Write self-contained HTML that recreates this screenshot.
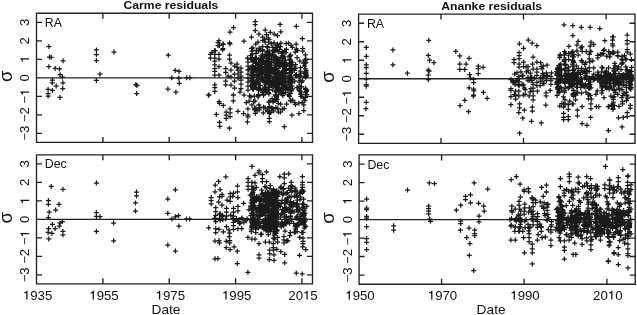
<!DOCTYPE html>
<html><head><meta charset="utf-8"><style>html,body{margin:0;padding:0;background:#fff;width:637px;height:315px;overflow:hidden}svg{display:block;will-change:transform}</style></head>
<body><svg width="637" height="315" viewBox="0 0 637 315">
<rect width="637" height="315" fill="#fff"/>
<path d="M36.5,13.2H312.5V142.4H36.5ZM36.5,77.80H312.5M36.5,133.30h5.5M312.5,133.30h-5.5M36.5,114.80h5.5M312.5,114.80h-5.5M36.5,96.30h5.5M312.5,96.30h-5.5M36.5,77.80h5.5M312.5,77.80h-5.5M36.5,59.30h5.5M312.5,59.30h-5.5M36.5,40.80h5.5M312.5,40.80h-5.5M36.5,22.30h5.5M312.5,22.30h-5.5M36.5,13.2v5.5M36.5,142.4v-5.5M102.9,13.2v5.5M102.9,142.4v-5.5M169.2,13.2v5.5M169.2,142.4v-5.5M235.6,13.2v5.5M235.6,142.4v-5.5M301.9,13.2v5.5M301.9,142.4v-5.5M36.5,154.85H312.5V283.8H36.5ZM36.5,219.32H312.5M36.5,274.82h5.5M312.5,274.82h-5.5M36.5,256.32h5.5M312.5,256.32h-5.5M36.5,237.82h5.5M312.5,237.82h-5.5M36.5,219.32h5.5M312.5,219.32h-5.5M36.5,200.82h5.5M312.5,200.82h-5.5M36.5,182.32h5.5M312.5,182.32h-5.5M36.5,163.82h5.5M312.5,163.82h-5.5M36.5,154.85v5.5M36.5,283.8v-5.5M102.9,154.85v5.5M102.9,283.8v-5.5M169.2,154.85v5.5M169.2,283.8v-5.5M235.6,154.85v5.5M235.6,283.8v-5.5M301.9,154.85v5.5M301.9,283.8v-5.5M358.6,14.1H635.0V143.4H358.6ZM358.6,78.75H635.0M358.6,134.25h5.5M635.0,134.25h-5.5M358.6,115.75h5.5M635.0,115.75h-5.5M358.6,97.25h5.5M635.0,97.25h-5.5M358.6,78.75h5.5M635.0,78.75h-5.5M358.6,60.25h5.5M635.0,60.25h-5.5M358.6,41.75h5.5M635.0,41.75h-5.5M358.6,23.25h5.5M635.0,23.25h-5.5M358.6,14.1v5.5M358.6,143.4v-5.5M441.0,14.1v5.5M441.0,143.4v-5.5M523.5,14.1v5.5M523.5,143.4v-5.5M606.1,14.1v5.5M606.1,143.4v-5.5M359.1,154.9H635.2V284.2H359.1ZM359.1,219.55H635.2M359.1,275.05h5.5M635.2,275.05h-5.5M359.1,256.55h5.5M635.2,256.55h-5.5M359.1,238.05h5.5M635.2,238.05h-5.5M359.1,219.55h5.5M635.2,219.55h-5.5M359.1,201.05h5.5M635.2,201.05h-5.5M359.1,182.55h5.5M635.2,182.55h-5.5M359.1,164.05h5.5M635.2,164.05h-5.5M359.1,154.9v5.5M359.1,284.2v-5.5M441.6,154.9v5.5M441.6,284.2v-5.5M524.1,154.9v5.5M524.1,284.2v-5.5M606.9,154.9v5.5M606.9,284.2v-5.5" fill="none" stroke="#222" stroke-width="1.35"/>
<path d="M46.4,46.5h5M48.9,44.0v5M47.0,57.0h5M49.5,54.5v5M48.7,57.3h5M51.2,54.8v5M60.6,60.8h5M63.1,58.3v5M46.4,66.7h5M48.9,64.2v5M52.7,68.4h5M55.2,65.9v5M57.0,68.9h5M59.5,66.4v5M57.5,74.7h5M60.0,72.2v5M59.9,77.0h5M62.4,74.5v5M49.9,80.0h5M52.4,77.5v5M49.7,82.8h5M52.2,80.3v5M53.7,86.1h5M56.2,83.6v5M60.4,82.8h5M62.9,80.3v5M60.2,88.5h5M62.7,86.0v5M45.6,89.4h5M48.1,86.9v5M49.9,90.4h5M52.4,87.9v5M45.6,93.7h5M48.1,91.2v5M45.6,96.1h5M48.1,93.6v5M57.5,97.4h5M60.0,94.9v5M93.9,49.9h5M96.4,47.4v5M93.9,54.6h5M96.4,52.1v5M93.9,60.6h5M96.4,58.1v5M97.5,74.2h5M100.0,71.7v5M93.9,80.4h5M96.4,77.9v5M111.5,52.1h5M114.0,49.6v5M133.3,84.6h5M135.8,82.1v5M134.5,85.5h5M137.0,83.0v5M134.2,93.5h5M136.7,91.0v5M165.8,55.2h5M168.3,52.7v5M172.7,70.4h5M175.2,67.9v5M176.5,71.4h5M179.0,68.9v5M169.3,77.8h5M171.8,75.3v5M176.3,78.3h5M178.8,75.8v5M184.2,77.8h5M186.7,75.3v5M187.3,77.8h5M189.8,75.3v5M176.8,83.3h5M179.3,80.8v5M165.4,89.0h5M167.9,86.5v5M173.4,92.2h5M175.9,89.7v5M205.9,95.1h5M208.4,92.6v5M231.0,27.6h5M233.5,25.1v5M227.5,32.0h5M230.0,29.5v5M216.4,40.7h5M218.9,38.2v5M217.0,45.4h5M219.5,42.9v5M220.8,44.4h5M223.3,41.9v5M227.5,43.9h5M230.0,41.4v5M212.8,50.7h5M215.3,48.2v5M220.2,49.8h5M222.7,47.3v5M209.4,52.4h5M211.9,49.9v5M252.8,21.6h5M255.3,19.1v5M252.8,24.7h5M255.3,22.2v5M252.8,30.5h5M255.3,28.0v5M256.4,34.0h5M258.9,31.5v5M241.4,41.2h5M243.9,38.7v5M249.0,37.1h5M251.5,34.6v5M253.2,44.1h5M255.7,41.6v5M249.0,48.3h5M251.5,45.8v5M249.4,51.1h5M251.9,48.6v5M262.7,30.1h5M265.2,27.6v5M267.8,32.3h5M270.3,29.8v5M264.0,34.6h5M266.5,32.1v5M260.2,37.1h5M262.7,34.6v5M260.2,40.3h5M262.7,37.8v5M262.7,42.2h5M265.2,39.7v5M266.5,39.7h5M269.0,37.2v5M271.5,42.8h5M274.0,40.3v5M260.2,46.7h5M262.7,44.2v5M265.2,47.3h5M267.7,44.8v5M270.3,47.3h5M272.8,44.8v5M260.2,49.8h5M262.7,47.3v5M265.2,51.1h5M267.7,48.6v5M270.3,51.1h5M272.8,48.6v5M277.6,24.4h5M280.1,21.9v5M293.8,26.3h5M296.3,23.8v5M278.3,31.8h5M280.8,29.3v5M275.0,35.6h5M277.5,33.1v5M299.9,38.7h5M302.4,36.2v5M278.3,43.2h5M280.8,40.7v5M277.9,46.7h5M280.4,44.2v5M286.2,43.2h5M288.7,40.7v5M288.7,45.4h5M291.2,42.9v5M289.8,47.3h5M292.3,44.8v5M293.8,49.2h5M296.3,46.7v5M282.1,50.5h5M284.6,48.0v5M300.2,48.6h5M302.7,46.1v5M300.2,51.1h5M302.7,48.6v5M274.8,47.3h5M277.3,44.8v5M212.3,50.5h5M214.8,48.0v5M212.3,54.3h5M214.8,51.8v5M212.3,58.0h5M214.8,55.5v5M212.3,61.0h5M214.8,58.5v5M212.3,64.8h5M214.8,62.3v5M212.3,68.6h5M214.8,66.1v5M212.3,71.4h5M214.8,68.9v5M212.3,75.2h5M214.8,72.7v5M212.3,84.8h5M214.8,82.3v5M212.3,87.6h5M214.8,85.1v5M212.3,91.4h5M214.8,88.9v5M208.0,54.3h5M210.5,51.8v5M208.0,58.0h5M210.5,55.5v5M216.5,54.3h5M219.0,51.8v5M216.5,59.0h5M219.0,56.5v5M216.5,66.7h5M219.0,64.2v5M216.5,75.2h5M219.0,72.7v5M215.5,42.5h5M218.0,40.0v5M215.5,45.5h5M218.0,43.0v5M220.4,43.8h5M222.9,41.3v5M220.4,48.6h5M222.9,46.1v5M227.0,42.9h5M229.5,40.4v5M227.0,55.2h5M229.5,52.7v5M227.0,59.0h5M229.5,56.5v5M223.2,68.6h5M225.7,66.1v5M223.2,72.4h5M225.7,69.9v5M223.2,81.0h5M225.7,78.5v5M223.2,84.8h5M225.7,82.3v5M206.1,95.2h5M208.6,92.7v5M230.8,95.2h5M233.3,92.7v5M228.5,63.0h5M231.0,60.5v5M228.5,70.0h5M231.0,67.5v5M228.5,77.0h5M231.0,74.5v5M228.5,85.0h5M231.0,82.5v5M232.0,66.0h5M234.5,63.5v5M232.0,74.0h5M234.5,71.5v5M232.0,81.0h5M234.5,78.5v5M232.0,88.0h5M234.5,85.5v5M225.5,76.0h5M228.0,73.5v5M234.5,64.0h5M237.0,61.5v5M234.5,67.0h5M237.0,64.5v5M235.5,70.0h5M238.0,67.5v5M235.5,74.0h5M238.0,71.5v5M235.5,78.0h5M238.0,75.5v5M238.5,68.0h5M241.0,65.5v5M238.5,72.0h5M241.0,69.5v5M238.5,76.0h5M241.0,73.5v5M238.5,80.0h5M241.0,77.5v5M238.5,84.0h5M241.0,81.5v5M238.5,88.5h5M241.0,86.0v5M245.0,58.0h5M247.5,55.5v5M245.5,62.0h5M248.0,59.5v5M245.5,66.0h5M248.0,63.5v5M245.5,70.0h5M248.0,67.5v5M245.5,74.0h5M248.0,71.5v5M245.5,78.0h5M248.0,75.5v5M245.5,82.0h5M248.0,79.5v5M245.5,86.0h5M248.0,83.5v5M245.5,90.0h5M248.0,87.5v5M241.5,95.0h5M244.0,92.5v5M237.5,92.0h5M240.0,89.5v5M206.5,94.9h5M209.0,92.4v5M230.8,94.9h5M233.3,92.4v5M230.8,100.9h5M233.3,98.4v5M216.5,101.7h5M219.0,99.2v5M217.0,103.3h5M219.5,100.8v5M220.8,105.4h5M223.3,102.9v5M227.6,108.9h5M230.1,106.4v5M223.7,112.0h5M226.2,109.5v5M227.6,112.8h5M230.1,110.3v5M213.8,114.4h5M216.3,111.9v5M223.7,115.2h5M226.2,112.7v5M227.6,116.5h5M230.1,114.0v5M223.7,118.4h5M226.2,115.9v5M217.0,122.4h5M219.5,119.9v5M217.3,126.3h5M219.8,123.8v5M226.8,128.2h5M229.3,125.7v5M235.4,111.3h5M237.9,108.8v5M241.1,113.6h5M243.6,111.1v5M245.4,108.9h5M247.9,106.4v5M245.4,115.2h5M247.9,112.7v5M245.4,116.8h5M247.9,114.3v5M244.9,121.9h5M247.4,119.4v5M252.9,113.3h5M255.4,110.8v5M260.8,112.8h5M263.3,110.3v5M266.8,113.6h5M269.3,111.1v5M266.8,118.4h5M269.3,115.9v5M266.8,121.6h5M269.3,119.1v5M249.4,104.9h5M251.9,102.4v5M256.5,108.1h5M259.0,105.6v5M266.8,108.1h5M269.3,105.6v5M243.8,102.5h5M246.3,100.0v5M275.9,112.0h5M278.4,109.5v5M289.4,115.2h5M291.9,112.7v5M296.5,113.6h5M299.0,111.1v5M301.3,110.5h5M303.8,108.0v5M301.3,104.9h5M303.8,102.4v5M299.7,102.5h5M302.2,100.0v5M281.8,126.7h5M284.3,124.2v5M256.4,69.1h5M258.9,66.6v5M251.0,71.0h5M253.5,68.5v5M271.7,61.0h5M274.2,58.5v5M275.0,89.6h5M277.5,87.1v5M280.3,65.2h5M282.8,62.7v5M253.9,58.5h5M256.4,56.0v5M276.1,81.4h5M278.6,78.9v5M256.5,81.8h5M259.0,79.3v5M255.4,79.8h5M257.9,77.3v5M259.1,66.7h5M261.6,64.2v5M260.1,60.8h5M262.6,58.3v5M270.5,84.5h5M273.0,82.0v5M279.4,87.9h5M281.9,85.4v5M269.1,67.7h5M271.6,65.2v5M260.1,58.3h5M262.6,55.8v5M276.5,79.7h5M279.0,77.2v5M257.7,65.8h5M260.2,63.3v5M259.0,59.6h5M261.5,57.1v5M267.4,68.1h5M269.9,65.6v5M281.7,56.8h5M284.2,54.3v5M276.7,89.5h5M279.2,87.0v5M250.5,65.5h5M253.0,63.0v5M259.8,55.8h5M262.3,53.3v5M274.1,59.3h5M276.6,56.8v5M266.5,74.1h5M269.0,71.6v5M266.6,84.5h5M269.1,82.0v5M265.7,84.4h5M268.2,81.9v5M275.3,59.9h5M277.8,57.4v5M278.7,92.1h5M281.2,89.6v5M267.5,54.5h5M270.0,52.0v5M274.4,63.4h5M276.9,60.9v5M264.2,58.0h5M266.7,55.5v5M276.4,88.2h5M278.9,85.7v5M266.5,72.3h5M269.0,69.8v5M281.0,85.8h5M283.5,83.3v5M272.7,56.3h5M275.2,53.8v5M266.6,68.5h5M269.1,66.0v5M280.6,75.3h5M283.1,72.8v5M256.4,71.3h5M258.9,68.8v5M273.6,65.9h5M276.1,63.4v5M253.6,72.2h5M256.1,69.7v5M250.0,77.9h5M252.5,75.4v5M273.7,74.5h5M276.2,72.0v5M266.2,74.1h5M268.7,71.6v5M280.2,63.9h5M282.7,61.4v5M277.6,57.7h5M280.1,55.2v5M269.3,68.4h5M271.8,65.9v5M272.8,76.1h5M275.3,73.6v5M271.5,74.0h5M274.0,71.5v5M257.5,75.2h5M260.0,72.7v5M273.3,63.7h5M275.8,61.2v5M274.5,65.2h5M277.0,62.7v5M277.6,66.0h5M280.1,63.5v5M279.6,74.3h5M282.1,71.8v5M263.0,87.4h5M265.5,84.9v5M255.9,59.4h5M258.4,56.9v5M270.0,78.1h5M272.5,75.6v5M260.8,72.1h5M263.3,69.6v5M280.4,55.5h5M282.9,53.0v5M262.6,54.0h5M265.1,51.5v5M263.1,72.7h5M265.6,70.2v5M280.2,66.8h5M282.7,64.3v5M266.3,54.6h5M268.8,52.1v5M272.0,70.3h5M274.5,67.8v5M249.8,54.1h5M252.3,51.6v5M272.4,73.7h5M274.9,71.2v5M263.6,56.2h5M266.1,53.7v5M273.8,84.6h5M276.3,82.1v5M266.4,59.3h5M268.9,56.8v5M259.2,79.9h5M261.7,77.4v5M269.1,85.4h5M271.6,82.9v5M267.0,64.5h5M269.5,62.0v5M272.7,94.8h5M275.2,92.3v5M275.5,78.8h5M278.0,76.3v5M276.3,82.4h5M278.8,79.9v5M279.4,75.8h5M281.9,73.3v5M263.2,63.3h5M265.7,60.8v5M267.9,72.3h5M270.4,69.8v5M276.3,88.7h5M278.8,86.2v5M280.3,81.3h5M282.8,78.8v5M268.3,82.1h5M270.8,79.6v5M249.8,69.9h5M252.3,67.4v5M255.7,75.7h5M258.2,73.2v5M257.7,72.8h5M260.2,70.3v5M257.2,89.3h5M259.7,86.8v5M276.8,84.0h5M279.3,81.5v5M276.9,65.1h5M279.4,62.6v5M262.6,67.6h5M265.1,65.1v5M276.1,89.1h5M278.6,86.6v5M249.8,81.7h5M252.3,79.2v5M250.3,74.2h5M252.8,71.7v5M279.1,62.9h5M281.6,60.4v5M264.0,66.1h5M266.5,63.6v5M272.0,59.6h5M274.5,57.1v5M266.6,82.3h5M269.1,79.8v5M267.2,75.7h5M269.7,73.2v5M257.2,62.7h5M259.7,60.2v5M274.1,78.3h5M276.6,75.8v5M250.7,82.7h5M253.2,80.2v5M260.0,61.5h5M262.5,59.0v5M262.6,62.4h5M265.1,59.9v5M263.6,74.5h5M266.1,72.0v5M272.8,48.8h5M275.3,46.3v5M250.1,88.0h5M252.6,85.5v5M249.9,74.2h5M252.4,71.7v5M254.1,63.4h5M256.6,60.9v5M275.3,77.8h5M277.8,75.3v5M276.6,79.4h5M279.1,76.9v5M279.4,78.7h5M281.9,76.2v5M266.6,59.7h5M269.1,57.2v5M260.0,77.9h5M262.5,75.4v5M273.4,96.0h5M275.9,93.5v5M261.5,56.7h5M264.0,54.2v5M261.9,89.5h5M264.4,87.0v5M251.8,82.6h5M254.3,80.1v5M269.1,67.3h5M271.6,64.8v5M273.3,73.9h5M275.8,71.4v5M252.4,87.2h5M254.9,84.7v5M275.2,59.2h5M277.7,56.7v5M260.1,90.8h5M262.6,88.3v5M280.3,52.8h5M282.8,50.3v5M266.4,69.9h5M268.9,67.4v5M272.6,69.9h5M275.1,67.4v5M267.5,73.0h5M270.0,70.5v5M277.3,89.6h5M279.8,87.1v5M254.2,69.3h5M256.7,66.8v5M258.6,79.1h5M261.1,76.6v5M272.1,79.8h5M274.6,77.3v5M272.8,65.2h5M275.3,62.7v5M266.5,78.5h5M269.0,76.0v5M262.4,78.2h5M264.9,75.7v5M266.8,83.8h5M269.3,81.3v5M273.6,56.9h5M276.1,54.4v5M266.0,66.3h5M268.5,63.8v5M254.9,69.5h5M257.4,67.0v5M266.7,66.8h5M269.2,64.3v5M276.3,79.1h5M278.8,76.6v5M248.8,66.9h5M251.3,64.4v5M259.8,92.5h5M262.3,90.0v5M255.8,79.8h5M258.3,77.3v5M250.9,85.0h5M253.4,82.5v5M256.1,95.4h5M258.6,92.9v5M267.3,80.0h5M269.8,77.5v5M256.7,63.2h5M259.2,60.7v5M262.9,69.8h5M265.4,67.3v5M278.6,72.9h5M281.1,70.4v5M279.2,72.2h5M281.7,69.7v5M250.2,59.4h5M252.7,56.9v5M274.8,61.6h5M277.3,59.1v5M270.6,69.5h5M273.1,67.0v5M263.3,67.6h5M265.8,65.1v5M280.2,63.8h5M282.7,61.3v5M250.7,81.2h5M253.2,78.7v5M266.1,87.4h5M268.6,84.9v5M274.3,85.4h5M276.8,82.9v5M274.1,90.4h5M276.6,87.9v5M267.1,78.0h5M269.6,75.5v5M279.9,87.2h5M282.4,84.7v5M273.6,63.3h5M276.1,60.8v5M248.4,80.0h5M250.9,77.5v5M266.0,63.9h5M268.5,61.4v5M254.8,82.6h5M257.3,80.1v5M277.6,78.0h5M280.1,75.5v5M275.8,62.4h5M278.3,59.9v5M261.0,80.3h5M263.5,77.8v5M249.2,85.6h5M251.7,83.1v5M266.7,72.1h5M269.2,69.6v5M274.5,79.3h5M277.0,76.8v5M272.7,57.6h5M275.2,55.1v5M266.9,53.8h5M269.4,51.3v5M273.2,72.7h5M275.7,70.2v5M277.0,88.8h5M279.5,86.3v5M249.5,59.2h5M252.0,56.7v5M256.8,71.8h5M259.3,69.3v5M264.3,76.4h5M266.8,73.9v5M251.1,61.6h5M253.6,59.1v5M276.0,75.3h5M278.5,72.8v5M279.2,83.6h5M281.7,81.1v5M256.1,74.6h5M258.6,72.1v5M266.7,89.5h5M269.2,87.0v5M255.9,90.2h5M258.4,87.7v5M266.1,64.5h5M268.6,62.0v5M273.6,77.2h5M276.1,74.7v5M269.6,85.9h5M272.1,83.4v5M272.7,70.4h5M275.2,67.9v5M266.9,58.1h5M269.4,55.6v5M265.9,92.5h5M268.4,90.0v5M259.9,64.7h5M262.4,62.2v5M281.4,70.1h5M283.9,67.6v5M278.6,91.2h5M281.1,88.7v5M266.0,76.2h5M268.5,73.7v5M257.2,71.3h5M259.7,68.8v5M250.6,61.9h5M253.1,59.4v5M265.3,75.0h5M267.8,72.5v5M264.3,89.4h5M266.8,86.9v5M250.7,74.6h5M253.2,72.1v5M262.1,86.8h5M264.6,84.3v5M269.7,54.8h5M272.2,52.3v5M260.1,71.0h5M262.6,68.5v5M265.8,80.0h5M268.3,77.5v5M249.6,72.7h5M252.1,70.2v5M279.7,89.0h5M282.2,86.5v5M265.6,63.7h5M268.1,61.2v5M257.0,70.3h5M259.5,67.8v5M271.7,51.1h5M274.2,48.6v5M274.0,76.4h5M276.5,73.9v5M253.5,70.2h5M256.0,67.7v5M264.7,68.9h5M267.2,66.4v5M263.1,66.9h5M265.6,64.4v5M266.9,61.4h5M269.4,58.9v5M257.8,85.3h5M260.3,82.8v5M268.4,84.5h5M270.9,82.0v5M275.9,73.1h5M278.4,70.6v5M253.8,87.7h5M256.3,85.2v5M252.8,82.9h5M255.3,80.4v5M262.7,89.4h5M265.2,86.9v5M255.9,84.5h5M258.4,82.0v5M249.8,77.2h5M252.3,74.7v5M266.0,82.6h5M268.5,80.1v5M248.4,59.3h5M250.9,56.8v5M264.1,78.4h5M266.6,75.9v5M272.5,78.7h5M275.0,76.2v5M263.8,82.2h5M266.3,79.7v5M265.8,75.5h5M268.3,73.0v5M280.2,58.3h5M282.7,55.8v5M276.3,66.3h5M278.8,63.8v5M273.0,77.6h5M275.5,75.1v5M274.2,68.9h5M276.7,66.4v5M255.2,67.4h5M257.7,64.9v5M273.8,91.5h5M276.3,89.0v5M267.6,81.4h5M270.1,78.9v5M273.3,81.4h5M275.8,78.9v5M263.1,70.6h5M265.6,68.1v5M271.8,79.8h5M274.3,77.3v5M279.6,89.0h5M282.1,86.5v5M259.2,74.2h5M261.7,71.7v5M266.6,71.2h5M269.1,68.7v5M258.0,58.3h5M260.5,55.8v5M249.0,75.5h5M251.5,73.0v5M264.4,65.5h5M266.9,63.0v5M250.2,84.6h5M252.7,82.1v5M264.7,74.2h5M267.2,71.7v5M250.6,89.4h5M253.1,86.9v5M259.6,69.3h5M262.1,66.8v5M269.2,62.7h5M271.7,60.2v5M263.1,87.8h5M265.6,85.3v5M265.7,69.4h5M268.2,66.9v5M273.0,88.1h5M275.5,85.6v5M277.1,62.8h5M279.6,60.3v5M275.0,70.4h5M277.5,67.9v5M269.3,83.2h5M271.8,80.7v5M278.8,63.2h5M281.3,60.7v5M279.3,87.3h5M281.8,84.8v5M270.6,83.1h5M273.1,80.6v5M273.7,86.2h5M276.2,83.7v5M266.3,58.1h5M268.8,55.6v5M269.0,65.0h5M271.5,62.5v5M267.0,76.4h5M269.5,73.9v5M256.5,62.2h5M259.0,59.7v5M267.1,70.7h5M269.6,68.2v5M280.4,80.6h5M282.9,78.1v5M273.9,86.9h5M276.4,84.4v5M249.7,72.6h5M252.2,70.1v5M280.8,75.3h5M283.3,72.8v5M272.0,79.3h5M274.5,76.8v5M260.3,80.9h5M262.8,78.4v5M279.2,53.4h5M281.7,50.9v5M272.4,81.9h5M274.9,79.4v5M250.3,74.4h5M252.8,71.9v5M280.1,71.5h5M282.6,69.0v5M259.7,73.0h5M262.2,70.5v5M280.3,77.6h5M282.8,75.1v5M265.7,75.8h5M268.2,73.3v5M253.9,77.2h5M256.4,74.7v5M250.3,68.9h5M252.8,66.4v5M264.6,78.3h5M267.1,75.8v5M264.1,72.2h5M266.6,69.7v5M265.3,59.5h5M267.8,57.0v5M257.9,73.1h5M260.4,70.6v5M277.6,66.4h5M280.1,63.9v5M276.6,72.9h5M279.1,70.4v5M275.8,51.9h5M278.3,49.4v5M267.1,64.5h5M269.6,62.0v5M267.7,81.9h5M270.2,79.4v5M255.5,77.7h5M258.0,75.2v5M270.6,50.0h5M273.1,47.5v5M263.5,76.3h5M266.0,73.8v5M260.6,89.1h5M263.1,86.6v5M272.0,74.2h5M274.5,71.7v5M273.7,82.7h5M276.2,80.2v5M258.0,69.0h5M260.5,66.5v5M264.0,60.8h5M266.5,58.3v5M249.3,68.4h5M251.8,65.9v5M263.3,66.9h5M265.8,64.4v5M262.5,82.9h5M265.0,80.4v5M266.0,79.8h5M268.5,77.3v5M272.2,85.3h5M274.7,82.8v5M263.0,76.2h5M265.5,73.7v5M251.2,75.7h5M253.7,73.2v5M272.4,69.5h5M274.9,67.0v5M270.9,69.4h5M273.4,66.9v5M263.7,81.7h5M266.2,79.2v5M275.8,79.9h5M278.3,77.4v5M280.1,79.9h5M282.6,77.4v5M259.2,70.9h5M261.7,68.4v5M266.6,55.6h5M269.1,53.1v5M279.7,51.8h5M282.2,49.3v5M253.0,62.9h5M255.5,60.4v5M280.2,64.8h5M282.7,62.3v5M270.8,69.2h5M273.3,66.7v5M266.1,84.1h5M268.6,81.6v5M276.6,82.4h5M279.1,79.9v5M259.5,59.6h5M262.0,57.1v5M260.2,67.6h5M262.7,65.1v5M272.9,50.6h5M275.4,48.1v5M251.1,75.6h5M253.6,73.1v5M273.7,79.0h5M276.2,76.5v5M259.6,69.1h5M262.1,66.6v5M278.8,64.3h5M281.3,61.8v5M267.5,68.1h5M270.0,65.6v5M249.6,83.9h5M252.1,81.4v5M249.9,71.9h5M252.4,69.4v5M276.2,74.1h5M278.7,71.6v5M256.5,71.7h5M259.0,69.2v5M253.5,67.9h5M256.0,65.4v5M276.3,73.5h5M278.8,71.0v5M263.3,84.5h5M265.8,82.0v5M273.8,60.4h5M276.3,57.9v5M251.6,81.5h5M254.1,79.0v5M279.9,57.2h5M282.4,54.7v5M277.1,82.9h5M279.6,80.4v5M249.1,80.6h5M251.6,78.1v5M266.7,87.7h5M269.2,85.2v5M266.7,64.4h5M269.2,61.9v5M277.2,49.3h5M279.7,46.8v5M280.2,85.1h5M282.7,82.6v5M257.2,64.4h5M259.7,61.9v5M264.3,55.4h5M266.8,52.9v5M249.9,66.4h5M252.4,63.9v5M266.8,51.1h5M269.3,48.6v5M280.1,77.3h5M282.6,74.8v5M279.8,61.8h5M282.3,59.3v5M270.1,71.5h5M272.6,69.0v5M279.6,64.7h5M282.1,62.2v5M254.3,72.2h5M256.8,69.7v5M263.8,75.0h5M266.3,72.5v5M274.3,84.1h5M276.8,81.6v5M279.9,84.9h5M282.4,82.4v5M276.5,64.6h5M279.0,62.1v5M265.0,81.6h5M267.5,79.1v5M252.6,87.3h5M255.1,84.8v5M264.9,64.5h5M267.4,62.0v5M256.8,48.2h5M259.3,45.7v5M266.7,67.9h5M269.2,65.4v5M271.3,85.8h5M273.8,83.3v5M281.1,93.7h5M283.6,91.2v5M273.2,79.4h5M275.7,76.9v5M268.9,58.0h5M271.4,55.5v5M271.9,68.0h5M274.4,65.5v5M252.1,60.3h5M254.6,57.8v5M283.1,76.0h5M285.6,73.5v5M288.0,89.1h5M290.5,86.6v5M302.9,54.8h5M305.4,52.3v5M287.0,96.4h5M289.5,93.9v5M301.3,98.0h5M303.8,95.5v5M303.1,60.0h5M305.6,57.5v5M289.5,86.0h5M292.0,83.5v5M288.1,63.5h5M290.6,61.0v5M283.7,72.5h5M286.2,70.0v5M304.0,75.6h5M306.5,73.1v5M297.8,71.0h5M300.3,68.5v5M302.7,73.6h5M305.2,71.1v5M302.8,63.0h5M305.3,60.5v5M289.6,62.4h5M292.1,59.9v5M303.4,59.0h5M305.9,56.5v5M288.2,76.8h5M290.7,74.3v5M283.3,78.9h5M285.8,76.4v5M282.1,63.9h5M284.6,61.4v5M292.7,52.2h5M295.2,49.7v5M287.7,84.9h5M290.2,82.4v5M281.6,85.4h5M284.1,82.9v5M287.4,83.8h5M289.9,81.3v5M288.0,93.4h5M290.5,90.9v5M287.3,83.7h5M289.8,81.2v5M298.3,73.0h5M300.8,70.5v5M288.3,78.1h5M290.8,75.6v5M288.0,87.3h5M290.5,84.8v5M294.6,57.5h5M297.1,55.0v5M303.1,97.3h5M305.6,94.8v5M289.2,79.3h5M291.7,76.8v5M288.1,79.4h5M290.6,76.9v5M287.6,77.3h5M290.1,74.8v5M288.1,68.8h5M290.6,66.3v5M287.8,87.4h5M290.3,84.9v5M296.7,88.7h5M299.2,86.2v5M297.3,61.2h5M299.8,58.7v5M282.9,89.8h5M285.4,87.3v5M288.2,80.5h5M290.7,78.0v5M286.9,69.8h5M289.4,67.3v5M282.3,62.1h5M284.8,59.6v5M292.2,81.2h5M294.7,78.7v5M288.0,68.3h5M290.5,65.8v5M283.3,66.2h5M285.8,63.7v5M288.5,62.1h5M291.0,59.6v5M283.3,86.7h5M285.8,84.2v5M302.5,71.8h5M305.0,69.3v5M284.0,63.9h5M286.5,61.4v5M302.4,60.2h5M304.9,57.7v5M303.5,72.4h5M306.0,69.9v5M303.1,92.5h5M305.6,90.0v5M303.6,74.2h5M306.1,71.7v5M283.1,63.8h5M285.6,61.3v5M303.3,62.6h5M305.8,60.1v5M286.9,68.5h5M289.4,66.0v5M294.0,74.5h5M296.5,72.0v5M292.5,67.0h5M295.0,64.5v5M283.0,92.3h5M285.5,89.8v5M287.3,78.3h5M289.8,75.8v5M295.0,50.6h5M297.5,48.1v5M297.4,76.9h5M299.9,74.4v5M283.2,76.6h5M285.7,74.1v5M283.9,49.4h5M286.4,46.9v5M289.1,65.1h5M291.6,62.6v5M287.0,56.8h5M289.5,54.3v5M297.6,80.3h5M300.1,77.8v5M282.8,86.8h5M285.3,84.3v5M288.1,73.6h5M290.6,71.1v5M283.5,82.5h5M286.0,80.0v5M298.8,94.4h5M301.3,91.9v5M288.1,65.8h5M290.6,63.3v5M287.7,84.2h5M290.2,81.7v5M288.5,101.0h5M291.0,98.5v5M298.5,86.6h5M301.0,84.1v5M288.7,69.4h5M291.2,66.9v5M283.3,70.3h5M285.8,67.8v5M288.3,83.2h5M290.8,80.7v5M293.1,64.7h5M295.6,62.2v5M302.3,100.5h5M304.8,98.0v5M291.9,70.4h5M294.4,67.9v5M292.9,68.6h5M295.4,66.1v5M298.4,91.9h5M300.9,89.4v5M293.0,75.6h5M295.5,73.1v5M288.5,82.7h5M291.0,80.2v5M283.2,73.5h5M285.7,71.0v5M282.8,66.4h5M285.3,63.9v5M286.7,81.4h5M289.2,78.9v5M289.9,70.7h5M292.4,68.2v5M288.1,100.3h5M290.6,97.8v5M304.0,91.3h5M306.5,88.8v5M287.0,63.2h5M289.5,60.7v5M287.3,59.2h5M289.8,56.7v5M288.4,69.9h5M290.9,67.4v5M287.3,82.2h5M289.8,79.7v5M298.9,86.8h5M301.4,84.3v5M288.2,66.2h5M290.7,63.7v5M287.2,76.3h5M289.7,73.8v5M284.0,68.9h5M286.5,66.4v5M296.7,90.3h5M299.2,87.8v5M297.2,75.5h5M299.7,73.0v5M282.0,66.6h5M284.5,64.1v5M302.9,88.3h5M305.4,85.8v5M294.5,87.5h5M297.0,85.0v5M298.1,67.7h5M300.6,65.2v5M302.6,62.2h5M305.1,59.7v5M298.3,96.3h5M300.8,93.8v5M288.9,90.8h5M291.4,88.3v5M288.2,55.1h5M290.7,52.6v5M303.0,68.9h5M305.5,66.4v5M288.5,86.2h5M291.0,83.7v5M287.6,55.5h5M290.1,53.0v5M303.5,74.6h5M306.0,72.1v5M283.5,64.9h5M286.0,62.4v5M302.7,62.6h5M305.2,60.1v5M303.1,77.3h5M305.6,74.8v5M303.7,70.7h5M306.2,68.2v5M283.0,81.4h5M285.5,78.9v5M302.4,76.2h5M304.9,73.7v5M282.7,60.2h5M285.2,57.7v5M296.4,77.0h5M298.9,74.5v5M288.7,81.7h5M291.2,79.2v5M283.2,65.2h5M285.7,62.7v5M282.9,60.2h5M285.4,57.7v5M282.1,63.0h5M284.6,60.5v5M288.7,79.5h5M291.2,77.0v5M298.9,82.0h5M301.4,79.5v5M296.4,103.2h5M298.9,100.7v5M288.3,63.4h5M290.8,60.9v5M287.3,69.9h5M289.8,67.4v5M296.9,82.2h5M299.4,79.7v5M288.0,68.4h5M290.5,65.9v5M288.5,89.7h5M291.0,87.2v5M303.3,76.4h5M305.8,73.9v5M288.3,72.3h5M290.8,69.8v5M283.4,52.6h5M285.9,50.1v5M287.1,80.2h5M289.6,77.7v5M287.4,75.1h5M289.9,72.6v5M288.8,82.7h5M291.3,80.2v5M298.1,94.1h5M300.6,91.6v5M283.1,90.0h5M285.6,87.5v5M303.2,89.5h5M305.7,87.0v5M301.0,63.1h5M303.5,60.6v5M283.6,70.2h5M286.1,67.7v5M293.6,44.1h5M296.1,41.6v5M304.1,94.6h5M306.6,92.1v5M275.6,88.2h5M278.1,85.7v5M290.1,88.8h5M292.6,86.3v5M281.7,108.5h5M284.2,106.0v5M269.6,98.7h5M272.1,96.2v5M288.1,60.3h5M290.6,57.8v5M249.9,57.7h5M252.4,55.2v5M296.6,86.1h5M299.1,83.6v5M257.5,89.3h5M260.0,86.8v5M279.4,92.4h5M281.9,89.9v5M284.5,86.5h5M287.0,84.0v5M250.5,47.9h5M253.0,45.4v5M251.0,88.8h5M253.5,86.3v5M261.7,56.6h5M264.2,54.1v5M280.2,60.2h5M282.7,57.7v5M292.9,104.5h5M295.4,102.0v5M284.1,104.0h5M286.6,101.5v5M287.3,56.1h5M289.8,53.6v5M290.2,100.1h5M292.7,97.6v5M292.3,102.6h5M294.8,100.1v5M253.3,81.6h5M255.8,79.1v5M284.8,88.9h5M287.3,86.4v5M277.3,91.4h5M279.8,88.9v5M259.7,90.7h5M262.2,88.2v5M286.4,94.1h5M288.9,91.6v5M304.2,90.0h5M306.7,87.5v5M271.6,100.5h5M274.1,98.0v5M253.9,63.4h5M256.4,60.9v5M283.6,43.5h5M286.1,41.0v5M253.5,53.4h5M256.0,50.9v5M283.1,63.3h5M285.6,60.8v5M286.4,95.1h5M288.9,92.6v5M252.9,67.6h5M255.4,65.1v5M254.0,50.3h5M256.5,47.8v5M265.0,111.3h5M267.5,108.8v5M268.1,112.4h5M270.6,109.9v5M300.1,80.8h5M302.6,78.3v5M255.8,94.5h5M258.3,92.0v5M270.2,90.0h5M272.7,87.5v5M262.7,108.1h5M265.2,105.6v5M269.0,108.1h5M271.5,105.6v5M286.1,88.8h5M288.6,86.3v5M250.5,61.2h5M253.0,58.7v5M256.5,88.2h5M259.0,85.7v5M258.5,55.9h5M261.0,53.4v5M248.3,55.5h5M250.8,53.0v5M293.3,75.2h5M295.8,72.7v5M246.3,69.5h5M248.8,67.0v5M274.1,76.7h5M276.6,74.2v5M248.2,86.0h5M250.7,83.5v5M251.8,96.1h5M254.3,93.6v5M302.1,66.1h5M304.6,63.6v5M299.5,96.4h5M302.0,93.9v5M255.6,96.9h5M258.1,94.4v5M297.4,91.2h5M299.9,88.7v5M252.6,58.1h5M255.1,55.6v5M266.1,62.1h5M268.6,59.6v5M268.9,43.7h5M271.4,41.2v5M264.6,46.6h5M267.1,44.1v5M262.1,39.0h5M264.6,36.5v5M255.5,42.0h5M258.0,39.5v5M256.0,50.9h5M258.5,48.4v5M274.4,45.7h5M276.9,43.2v5M257.8,50.0h5M260.3,47.5v5M264.4,52.1h5M266.9,49.6v5M270.4,54.4h5M272.9,51.9v5M266.1,42.2h5M268.6,39.7v5M274.9,44.3h5M277.4,41.8v5M265.7,37.8h5M268.2,35.3v5M259.9,51.0h5M262.4,48.5v5M273.8,50.0h5M276.3,47.5v5M271.7,34.1h5M274.2,31.6v5M280.3,95.5h5M282.8,93.0v5M270.3,108.5h5M272.8,106.0v5M273.2,99.9h5M275.7,97.4v5M274.6,99.5h5M277.1,97.0v5M260.9,95.2h5M263.4,92.7v5M266.9,106.5h5M269.4,104.0v5M253.5,108.1h5M256.0,105.6v5M261.1,94.6h5M263.6,92.1v5M248.4,96.9h5M250.9,94.4v5M251.9,109.5h5M254.4,107.0v5M279.8,109.0h5M282.3,106.5v5M252.0,108.1h5M254.5,105.6v5M257.3,107.6h5M259.8,105.1v5M251.1,101.4h5M253.6,98.9v5M254.5,110.6h5M257.0,108.1v5M266.8,107.1h5M269.3,104.6v5M274.0,98.1h5M276.5,95.6v5M256.7,109.9h5M259.2,107.4v5M275.8,94.7h5M278.3,92.2v5M274.2,97.2h5M276.7,94.7v5M261.1,107.2h5M263.6,104.7v5M247.1,95.8h5M249.6,93.3v5M263.3,92.5h5M265.8,90.0v5M275.7,103.3h5M278.2,100.8v5M263.5,91.0h5M266.0,88.5v5M266.2,102.0h5M268.7,99.5v5M273.5,107.5h5M276.0,105.0v5M271.4,100.4h5M273.9,97.9v5M270.5,102.0h5M273.0,99.5v5M252.6,101.0h5M255.1,98.5v5M256.4,104.9h5M258.9,102.4v5M271.2,110.8h5M273.7,108.3v5M275.3,108.7h5M277.8,106.2v5M264.8,110.2h5M267.3,107.7v5M263.7,90.4h5M266.2,87.9v5M278.1,104.0h5M280.6,101.5v5M266.4,93.9h5M268.9,91.4v5M267.6,101.1h5M270.1,98.6v5M277.9,112.1h5M280.4,109.6v5M246.6,101.0h5M249.1,98.5v5M48.7,186.4h5M51.2,183.9v5M60.4,189.3h5M62.9,186.8v5M45.9,200.5h5M48.4,198.0v5M45.9,204.3h5M48.4,201.8v5M56.5,204.3h5M59.0,201.8v5M53.2,210.0h5M55.7,207.5v5M46.7,212.2h5M49.2,209.7v5M45.9,217.6h5M48.4,215.1v5M59.9,221.5h5M62.4,219.0v5M57.5,222.9h5M60.0,220.4v5M49.9,224.4h5M52.4,221.9v5M56.8,226.0h5M59.3,223.5v5M52.7,228.5h5M55.2,226.0v5M46.1,228.6h5M48.6,226.1v5M45.6,232.4h5M48.1,229.9v5M49.4,233.3h5M51.9,230.8v5M60.4,231.4h5M62.9,228.9v5M60.4,234.8h5M62.9,232.3v5M46.3,238.9h5M48.8,236.4v5M93.9,183.0h5M96.4,180.5v5M93.9,212.6h5M96.4,210.1v5M93.9,216.4h5M96.4,213.9v5M97.5,216.7h5M100.0,214.2v5M111.1,223.0h5M113.6,220.5v5M93.9,231.4h5M96.4,228.9v5M111.1,240.8h5M113.6,238.3v5M134.0,192.1h5M136.5,189.6v5M134.0,195.9h5M136.5,193.4v5M133.0,202.9h5M135.5,200.4v5M133.0,211.1h5M135.5,208.6v5M172.9,189.8h5M175.4,187.3v5M165.3,199.0h5M167.8,196.5v5M165.3,213.3h5M167.8,210.8v5M172.9,216.8h5M175.4,214.3v5M176.1,215.7h5M178.6,213.2v5M169.4,218.9h5M171.9,216.4v5M184.0,218.9h5M186.5,216.4v5M187.2,218.9h5M189.7,216.4v5M176.4,226.0h5M178.9,223.5v5M165.3,245.1h5M167.8,242.6v5M172.9,251.0h5M175.4,248.5v5M223.3,176.8h5M225.8,174.3v5M216.1,181.4h5M218.6,178.9v5M212.8,185.1h5M215.3,182.6v5M217.6,189.5h5M220.1,187.0v5M212.5,191.8h5M215.0,189.3v5M227.8,193.7h5M230.3,191.2v5M231.0,193.1h5M233.5,190.6v5M219.5,194.4h5M222.0,191.9v5M249.4,166.4h5M251.9,163.9v5M256.6,170.9h5M259.1,168.4v5M256.4,172.8h5M258.9,170.3v5M252.5,175.3h5M255.0,172.8v5M264.0,171.9h5M266.5,169.4v5M259.9,174.7h5M262.4,172.2v5M259.9,178.5h5M262.4,176.0v5M245.6,178.5h5M248.1,176.0v5M259.9,181.7h5M262.4,179.2v5M245.6,182.3h5M248.1,179.8v5M249.4,182.3h5M251.9,179.8v5M252.5,182.9h5M255.0,180.4v5M264.0,181.7h5M266.5,179.2v5M235.0,186.1h5M237.5,183.6v5M235.0,191.8h5M237.5,189.3v5M245.6,186.1h5M248.1,183.6v5M249.4,186.1h5M251.9,183.6v5M245.6,189.3h5M248.1,186.8v5M249.4,189.3h5M251.9,186.8v5M253.8,187.4h5M256.3,184.9v5M267.8,185.5h5M270.3,183.0v5M271.0,189.3h5M273.5,186.8v5M277.3,176.6h5M279.8,174.1v5M281.8,174.0h5M284.3,171.5v5M286.2,173.8h5M288.7,171.3v5M281.8,177.9h5M284.3,175.4v5M281.8,183.6h5M284.3,181.1v5M277.9,187.8h5M280.4,185.3v5M288.7,182.3h5M291.2,179.8v5M288.7,185.5h5M291.2,183.0v5M286.2,188.0h5M288.7,185.5v5M292.5,188.0h5M295.0,185.5v5M292.5,191.2h5M295.0,188.7v5M289.4,191.8h5M291.9,189.3v5M299.9,176.6h5M302.4,174.1v5M299.9,182.3h5M302.4,179.8v5M299.9,184.8h5M302.4,182.3v5M299.9,187.4h5M302.4,184.9v5M299.9,189.9h5M302.4,187.4v5M299.9,192.5h5M302.4,190.0v5M276.0,191.8h5M278.5,189.3v5M279.2,193.1h5M281.7,190.6v5M284.9,192.5h5M287.4,190.0v5M208.7,197.5h5M211.2,195.0v5M208.7,200.7h5M211.2,198.2v5M208.7,203.9h5M211.2,201.4v5M217.0,196.9h5M219.5,194.4v5M219.5,196.3h5M222.0,193.8v5M216.1,202.0h5M218.6,199.5v5M219.5,205.2h5M222.0,202.7v5M224.6,200.1h5M227.1,197.6v5M227.8,196.9h5M230.3,194.4v5M230.3,196.3h5M232.8,193.8v5M227.8,201.3h5M230.3,198.8v5M213.2,207.7h5M215.7,205.2v5M213.2,211.5h5M215.7,209.0v5M213.2,215.3h5M215.7,212.8v5M212.5,218.5h5M215.0,216.0v5M213.2,221.7h5M215.7,219.2v5M217.0,214.0h5M219.5,211.5v5M220.2,215.3h5M222.7,212.8v5M224.0,208.3h5M226.5,205.8v5M224.0,212.1h5M226.5,209.6v5M224.0,216.0h5M226.5,213.5v5M223.3,219.1h5M225.8,216.6v5M231.0,208.3h5M233.5,205.8v5M231.0,212.1h5M233.5,209.6v5M231.0,216.0h5M233.5,213.5v5M231.0,219.1h5M233.5,216.6v5M231.0,222.3h5M233.5,219.8v5M231.0,225.5h5M233.5,223.0v5M220.2,219.1h5M222.7,216.6v5M206.2,227.8h5M208.7,225.3v5M213.2,228.7h5M215.7,226.2v5M216.4,229.3h5M218.9,226.8v5M213.2,232.5h5M215.7,230.0v5M220.8,231.8h5M223.3,229.3v5M224.0,226.7h5M226.5,224.2v5M226.5,229.9h5M229.0,227.4v5M227.2,233.1h5M229.7,230.6v5M231.0,229.3h5M233.5,226.8v5M235.4,197.5h5M237.9,195.0v5M235.4,206.4h5M237.9,203.9v5M235.4,210.9h5M237.9,208.4v5M241.1,203.3h5M243.6,200.8v5M239.2,217.9h5M241.7,215.4v5M235.4,221.7h5M237.9,219.2v5M235.4,228.7h5M237.9,226.2v5M239.2,228.7h5M241.7,226.2v5M212.5,241.0h5M215.0,238.5v5M216.5,240.6h5M219.0,238.1v5M217.0,242.9h5M219.5,240.4v5M223.7,241.3h5M226.2,238.8v5M227.2,240.6h5M229.7,238.1v5M227.2,242.9h5M229.7,240.4v5M226.8,236.6h5M229.3,234.1v5M223.7,247.7h5M226.2,245.2v5M227.6,249.6h5M230.1,247.1v5M231.6,246.9h5M234.1,244.4v5M212.5,258.8h5M215.0,256.3v5M215.4,258.5h5M217.9,256.0v5M245.4,237.4h5M247.9,234.9v5M249.4,239.0h5M251.9,236.5v5M252.5,239.0h5M255.0,236.5v5M256.5,243.7h5M259.0,241.2v5M262.9,242.1h5M265.4,239.6v5M266.8,242.1h5M269.3,239.6v5M270.8,238.2h5M273.3,235.7v5M270.8,243.7h5M273.3,241.2v5M270.8,247.7h5M273.3,245.2v5M234.8,251.2h5M237.3,248.7v5M256.5,254.8h5M259.0,252.3v5M256.5,258.0h5M259.0,255.5v5M267.2,250.1h5M269.7,247.6v5M267.2,253.7h5M269.7,251.2v5M270.8,250.1h5M273.3,247.6v5M271.5,254.8h5M274.0,252.3v5M266.8,259.6h5M269.3,257.1v5M271.5,260.4h5M274.0,257.9v5M234.8,263.6h5M237.3,261.1v5M245.4,272.3h5M247.9,269.8v5M275.1,237.4h5M277.6,234.9v5M275.1,242.1h5M277.6,239.6v5M281.4,236.6h5M283.9,234.1v5M281.4,239.8h5M283.9,237.3v5M281.4,242.9h5M283.9,240.4v5M285.4,240.6h5M287.9,238.1v5M274.3,249.3h5M276.8,246.8v5M278.3,251.7h5M280.8,249.2v5M282.2,254.4h5M284.7,251.9v5M282.2,262.8h5M284.7,260.3v5M297.3,237.4h5M299.8,234.9v5M300.5,238.2h5M303.0,235.7v5M300.5,241.3h5M303.0,238.8v5M300.5,243.7h5M303.0,241.2v5M300.2,246.9h5M302.7,244.4v5M297.0,255.3h5M299.5,252.8v5M293.8,273.1h5M296.3,270.6v5M299.7,273.9h5M302.2,271.4v5M261.0,207.8h5M263.5,205.3v5M249.7,226.3h5M252.2,223.8v5M274.0,211.9h5M276.5,209.4v5M256.4,209.3h5M258.9,206.8v5M255.8,227.9h5M258.3,225.4v5M267.1,199.1h5M269.6,196.6v5M249.5,200.8h5M252.0,198.3v5M265.1,192.3h5M267.6,189.8v5M263.6,230.7h5M266.1,228.2v5M262.9,198.9h5M265.4,196.4v5M272.7,206.3h5M275.2,203.8v5M263.0,196.7h5M265.5,194.2v5M262.9,195.8h5M265.4,193.3v5M267.6,218.6h5M270.1,216.1v5M260.2,214.4h5M262.7,211.9v5M258.3,234.4h5M260.8,231.9v5M253.8,198.8h5M256.3,196.3v5M263.9,211.5h5M266.4,209.0v5M250.2,217.9h5M252.7,215.4v5M261.5,206.4h5M264.0,203.9v5M266.5,196.7h5M269.0,194.2v5M268.6,199.0h5M271.1,196.5v5M273.9,221.0h5M276.4,218.5v5M273.2,221.5h5M275.7,219.0v5M267.3,221.9h5M269.8,219.4v5M267.6,224.5h5M270.1,222.0v5M264.2,205.9h5M266.7,203.4v5M265.9,202.2h5M268.4,199.7v5M261.6,222.2h5M264.1,219.7v5M255.3,221.5h5M257.8,219.0v5M259.1,190.2h5M261.6,187.7v5M262.7,198.9h5M265.2,196.4v5M267.6,219.5h5M270.1,217.0v5M265.8,217.4h5M268.3,214.9v5M274.1,194.0h5M276.6,191.5v5M264.3,209.4h5M266.8,206.9v5M266.3,214.8h5M268.8,212.3v5M273.5,201.0h5M276.0,198.5v5M250.0,197.0h5M252.5,194.5v5M265.2,218.0h5M267.7,215.5v5M258.4,199.8h5M260.9,197.3v5M262.5,186.5h5M265.0,184.0v5M273.6,203.2h5M276.1,200.7v5M253.4,207.5h5M255.9,205.0v5M269.7,213.6h5M272.2,211.1v5M272.7,206.3h5M275.2,203.8v5M257.3,223.3h5M259.8,220.8v5M272.6,196.6h5M275.1,194.1v5M270.2,225.7h5M272.7,223.2v5M252.4,227.1h5M254.9,224.6v5M256.3,209.0h5M258.8,206.5v5M274.2,190.8h5M276.7,188.3v5M249.7,222.7h5M252.2,220.2v5M266.6,222.4h5M269.1,219.9v5M248.9,219.5h5M251.4,217.0v5M250.4,224.4h5M252.9,221.9v5M251.8,196.6h5M254.3,194.1v5M270.6,231.7h5M273.1,229.2v5M272.7,201.3h5M275.2,198.8v5M264.3,206.7h5M266.8,204.2v5M269.9,210.0h5M272.4,207.5v5M267.1,221.3h5M269.6,218.8v5M266.9,201.2h5M269.4,198.7v5M263.0,192.6h5M265.5,190.1v5M249.4,210.1h5M251.9,207.6v5M250.4,192.4h5M252.9,189.9v5M269.6,202.7h5M272.1,200.2v5M253.0,221.6h5M255.5,219.1v5M251.1,210.2h5M253.6,207.7v5M273.1,232.1h5M275.6,229.6v5M250.5,201.8h5M253.0,199.3v5M256.9,205.7h5M259.4,203.2v5M267.3,213.3h5M269.8,210.8v5M269.6,213.1h5M272.1,210.6v5M263.6,202.4h5M266.1,199.9v5M249.4,194.0h5M251.9,191.5v5M273.1,216.9h5M275.6,214.4v5M260.5,204.5h5M263.0,202.0v5M272.9,231.9h5M275.4,229.4v5M252.2,199.8h5M254.7,197.3v5M273.6,225.4h5M276.1,222.9v5M270.5,195.0h5M273.0,192.5v5M274.1,193.2h5M276.6,190.7v5M265.5,231.5h5M268.0,229.0v5M249.8,219.9h5M252.3,217.4v5M256.5,216.2h5M259.0,213.7v5M257.8,204.2h5M260.3,201.7v5M264.1,207.2h5M266.6,204.7v5M269.2,214.6h5M271.7,212.1v5M264.3,199.4h5M266.8,196.9v5M264.6,218.9h5M267.1,216.4v5M248.9,231.7h5M251.4,229.2v5M249.8,223.5h5M252.3,221.0v5M271.0,207.8h5M273.5,205.3v5M252.0,202.5h5M254.5,200.0v5M273.2,222.8h5M275.7,220.3v5M260.8,221.1h5M263.3,218.6v5M250.4,220.6h5M252.9,218.1v5M256.3,212.2h5M258.8,209.7v5M273.0,203.0h5M275.5,200.5v5M273.6,197.9h5M276.1,195.4v5M263.9,198.1h5M266.4,195.6v5M258.2,205.8h5M260.7,203.3v5M260.2,214.4h5M262.7,211.9v5M273.6,212.4h5M276.1,209.9v5M273.5,198.3h5M276.0,195.8v5M258.9,212.5h5M261.4,210.0v5M250.7,221.4h5M253.2,218.9v5M261.1,226.3h5M263.6,223.8v5M264.0,221.4h5M266.5,218.9v5M267.0,196.4h5M269.5,193.9v5M261.6,220.4h5M264.1,217.9v5M250.0,193.2h5M252.5,190.7v5M274.7,226.5h5M277.2,224.0v5M269.7,213.7h5M272.2,211.2v5M271.2,203.7h5M273.7,201.2v5M269.1,219.8h5M271.6,217.3v5M256.5,221.7h5M259.0,219.2v5M273.4,192.4h5M275.9,189.9v5M258.6,200.9h5M261.1,198.4v5M270.2,220.9h5M272.7,218.4v5M273.5,201.9h5M276.0,199.4v5M250.4,212.9h5M252.9,210.4v5M250.1,226.5h5M252.6,224.0v5M273.8,230.1h5M276.3,227.6v5M253.2,229.0h5M255.7,226.5v5M251.1,190.7h5M253.6,188.2v5M267.9,197.3h5M270.4,194.8v5M259.2,234.0h5M261.7,231.5v5M266.8,203.6h5M269.3,201.1v5M260.8,210.7h5M263.3,208.2v5M271.3,190.4h5M273.8,187.9v5M267.1,201.7h5M269.6,199.2v5M249.3,220.5h5M251.8,218.0v5M250.2,213.1h5M252.7,210.6v5M273.7,233.4h5M276.2,230.9v5M263.1,202.8h5M265.6,200.3v5M265.7,217.6h5M268.2,215.1v5M272.9,213.5h5M275.4,211.0v5M259.8,193.4h5M262.3,190.9v5M268.9,228.6h5M271.4,226.1v5M250.9,188.3h5M253.4,185.8v5M249.4,200.6h5M251.9,198.1v5M249.3,209.2h5M251.8,206.7v5M269.4,191.8h5M271.9,189.3v5M261.8,213.6h5M264.3,211.1v5M248.9,213.5h5M251.4,211.0v5M254.1,225.1h5M256.6,222.6v5M253.9,196.5h5M256.4,194.0v5M265.6,212.1h5M268.1,209.6v5M266.1,196.3h5M268.6,193.8v5M269.1,213.5h5M271.6,211.0v5M252.5,207.4h5M255.0,204.9v5M274.0,219.1h5M276.5,216.6v5M272.2,201.1h5M274.7,198.6v5M264.1,223.8h5M266.6,221.3v5M260.5,200.1h5M263.0,197.6v5M249.7,205.9h5M252.2,203.4v5M269.5,220.0h5M272.0,217.5v5M259.5,206.0h5M262.0,203.5v5M263.1,227.1h5M265.6,224.6v5M266.9,199.4h5M269.4,196.9v5M250.4,198.3h5M252.9,195.8v5M269.8,226.3h5M272.3,223.8v5M263.0,222.7h5M265.5,220.2v5M274.4,221.9h5M276.9,219.4v5M270.0,216.7h5M272.5,214.2v5M263.5,227.2h5M266.0,224.7v5M267.6,204.3h5M270.1,201.8v5M262.4,220.3h5M264.9,217.8v5M273.8,231.1h5M276.3,228.6v5M272.5,225.1h5M275.0,222.6v5M260.3,210.1h5M262.8,207.6v5M267.1,205.9h5M269.6,203.4v5M262.6,215.5h5M265.1,213.0v5M262.2,199.9h5M264.7,197.4v5M271.5,227.0h5M274.0,224.5v5M256.3,210.5h5M258.8,208.0v5M262.3,228.9h5M264.8,226.4v5M266.8,196.1h5M269.3,193.6v5M260.0,227.6h5M262.5,225.1v5M253.7,224.0h5M256.2,221.5v5M250.7,223.3h5M253.2,220.8v5M273.0,207.0h5M275.5,204.5v5M267.5,228.7h5M270.0,226.2v5M269.4,216.8h5M271.9,214.3v5M266.9,196.1h5M269.4,193.6v5M274.5,200.1h5M277.0,197.6v5M267.6,211.2h5M270.1,208.7v5M271.8,235.2h5M274.3,232.7v5M253.7,223.8h5M256.2,221.3v5M264.0,194.0h5M266.5,191.5v5M265.3,193.2h5M267.8,190.7v5M264.3,224.0h5M266.8,221.5v5M262.9,218.7h5M265.4,216.2v5M270.7,226.8h5M273.2,224.3v5M266.4,197.0h5M268.9,194.5v5M257.8,215.7h5M260.3,213.2v5M263.1,200.7h5M265.6,198.2v5M250.6,218.6h5M253.1,216.1v5M272.6,206.0h5M275.1,203.5v5M274.0,217.5h5M276.5,215.0v5M270.7,208.0h5M273.2,205.5v5M266.0,193.1h5M268.5,190.6v5M266.7,206.5h5M269.2,204.0v5M274.1,223.3h5M276.6,220.8v5M263.6,198.3h5M266.1,195.8v5M265.2,206.4h5M267.7,203.9v5M257.8,210.6h5M260.3,208.1v5M272.1,224.0h5M274.6,221.5v5M267.6,217.0h5M270.1,214.5v5M271.4,211.9h5M273.9,209.4v5M266.6,194.1h5M269.1,191.6v5M249.9,199.7h5M252.4,197.2v5M274.6,206.1h5M277.1,203.6v5M265.8,234.6h5M268.3,232.1v5M249.2,222.1h5M251.7,219.6v5M249.5,226.5h5M252.0,224.0v5M250.0,213.1h5M252.5,210.6v5M273.5,229.6h5M276.0,227.1v5M254.1,221.0h5M256.6,218.5v5M252.6,218.8h5M255.1,216.3v5M263.6,204.6h5M266.1,202.1v5M256.3,199.9h5M258.8,197.4v5M250.3,219.0h5M252.8,216.5v5M256.2,221.6h5M258.7,219.1v5M252.5,221.8h5M255.0,219.3v5M259.2,209.3h5M261.7,206.8v5M248.7,202.8h5M251.2,200.3v5M270.0,223.5h5M272.5,221.0v5M267.2,194.9h5M269.7,192.4v5M269.5,202.7h5M272.0,200.2v5M263.2,221.2h5M265.7,218.7v5M251.3,201.6h5M253.8,199.1v5M266.5,218.4h5M269.0,215.9v5M274.6,200.6h5M277.1,198.1v5M267.1,220.5h5M269.6,218.0v5M269.2,192.8h5M271.7,190.3v5M271.4,219.5h5M273.9,217.0v5M274.0,216.3h5M276.5,213.8v5M258.1,213.5h5M260.6,211.0v5M272.8,210.3h5M275.3,207.8v5M249.1,227.9h5M251.6,225.4v5M262.2,207.7h5M264.7,205.2v5M266.7,203.1h5M269.2,200.6v5M254.0,210.0h5M256.5,207.5v5M262.7,226.9h5M265.2,224.4v5M266.0,225.3h5M268.5,222.8v5M267.0,208.8h5M269.5,206.3v5M269.9,199.5h5M272.4,197.0v5M268.6,199.9h5M271.1,197.4v5M266.7,201.6h5M269.2,199.1v5M273.2,215.2h5M275.7,212.7v5M264.8,210.6h5M267.3,208.1v5M250.4,224.9h5M252.9,222.4v5M262.0,227.4h5M264.5,224.9v5M251.3,205.2h5M253.8,202.7v5M274.3,206.4h5M276.8,203.9v5M257.6,226.7h5M260.1,224.2v5M270.0,208.9h5M272.5,206.4v5M268.7,216.7h5M271.2,214.2v5M261.3,228.9h5M263.8,226.4v5M262.8,224.3h5M265.3,221.8v5M269.3,204.2h5M271.8,201.7v5M273.1,224.6h5M275.6,222.1v5M260.5,221.8h5M263.0,219.3v5M250.0,223.5h5M252.5,221.0v5M273.0,210.6h5M275.5,208.1v5M274.4,230.1h5M276.9,227.6v5M271.4,218.0h5M273.9,215.5v5M273.9,215.2h5M276.4,212.7v5M265.2,202.8h5M267.7,200.3v5M273.0,226.4h5M275.5,223.9v5M269.6,193.9h5M272.1,191.4v5M272.5,194.6h5M275.0,192.1v5M271.0,208.8h5M273.5,206.3v5M264.1,227.9h5M266.6,225.4v5M259.2,198.1h5M261.7,195.6v5M273.7,225.3h5M276.2,222.8v5M266.9,229.9h5M269.4,227.4v5M270.0,193.8h5M272.5,191.3v5M267.2,195.2h5M269.7,192.7v5M262.0,223.6h5M264.5,221.1v5M264.2,229.6h5M266.7,227.1v5M263.3,227.4h5M265.8,224.9v5M272.5,226.4h5M275.0,223.9v5M262.8,193.1h5M265.3,190.6v5M255.6,196.4h5M258.1,193.9v5M266.4,218.8h5M268.9,216.3v5M255.8,221.1h5M258.3,218.6v5M256.7,225.4h5M259.2,222.9v5M259.3,214.7h5M261.8,212.2v5M256.0,216.9h5M258.5,214.4v5M253.8,214.6h5M256.3,212.1v5M263.5,223.7h5M266.0,221.2v5M271.7,224.4h5M274.2,221.9v5M248.3,215.5h5M250.8,213.0v5M249.4,225.4h5M251.9,222.9v5M263.5,210.0h5M266.0,207.5v5M270.8,201.7h5M273.3,199.2v5M273.2,222.2h5M275.7,219.7v5M266.6,225.5h5M269.1,223.0v5M260.9,206.8h5M263.4,204.3v5M272.8,213.5h5M275.3,211.0v5M253.4,224.0h5M255.9,221.5v5M260.0,213.0h5M262.5,210.5v5M272.6,224.7h5M275.1,222.2v5M272.8,228.9h5M275.3,226.4v5M260.0,194.6h5M262.5,192.1v5M266.3,218.6h5M268.8,216.1v5M269.7,221.4h5M272.2,218.9v5M269.9,206.0h5M272.4,203.5v5M263.7,201.7h5M266.2,199.2v5M250.4,213.1h5M252.9,210.6v5M265.9,198.0h5M268.4,195.5v5M262.9,207.9h5M265.4,205.4v5M253.8,209.7h5M256.3,207.2v5M269.7,209.2h5M272.2,206.7v5M271.2,207.1h5M273.7,204.6v5M264.0,202.3h5M266.5,199.8v5M273.0,211.9h5M275.5,209.4v5M249.1,206.4h5M251.6,203.9v5M254.5,211.8h5M257.0,209.3v5M269.8,208.8h5M272.3,206.3v5M271.5,207.6h5M274.0,205.1v5M263.2,211.4h5M265.7,208.9v5M252.5,207.9h5M255.0,205.4v5M266.4,210.8h5M268.9,208.3v5M250.5,189.8h5M253.0,187.3v5M266.1,209.5h5M268.6,207.0v5M257.7,206.9h5M260.2,204.4v5M250.6,209.9h5M253.1,207.4v5M262.6,195.1h5M265.1,192.6v5M263.7,195.1h5M266.2,192.6v5M265.5,201.6h5M268.0,199.1v5M253.1,229.2h5M255.6,226.7v5M270.1,211.2h5M272.6,208.7v5M272.4,197.4h5M274.9,194.9v5M263.1,199.6h5M265.6,197.1v5M257.0,212.2h5M259.5,209.7v5M269.7,227.6h5M272.2,225.1v5M274.1,213.0h5M276.6,210.5v5M269.7,216.8h5M272.2,214.3v5M272.1,208.0h5M274.6,205.5v5M269.7,226.0h5M272.2,223.5v5M258.6,234.2h5M261.1,231.7v5M264.5,209.1h5M267.0,206.6v5M249.6,199.5h5M252.1,197.0v5M268.8,222.5h5M271.3,220.0v5M249.4,213.1h5M251.9,210.6v5M273.6,197.0h5M276.1,194.5v5M251.4,202.6h5M253.9,200.1v5M248.9,229.9h5M251.4,227.4v5M273.3,210.7h5M275.8,208.2v5M253.7,200.0h5M256.2,197.5v5M272.4,239.2h5M274.9,236.7v5M269.5,222.4h5M272.0,219.9v5M272.2,212.9h5M274.7,210.4v5M273.0,224.8h5M275.5,222.3v5M254.1,199.4h5M256.6,196.9v5M253.0,200.2h5M255.5,197.7v5M247.7,195.2h5M250.2,192.7v5M263.5,210.1h5M266.0,207.6v5M260.1,212.8h5M262.6,210.3v5M253.3,232.5h5M255.8,230.0v5M273.6,197.9h5M276.1,195.4v5M267.5,215.8h5M270.0,213.3v5M273.6,230.2h5M276.1,227.7v5M253.6,197.5h5M256.1,195.0v5M260.9,227.4h5M263.4,224.9v5M256.4,208.9h5M258.9,206.4v5M272.4,218.0h5M274.9,215.5v5M270.5,217.9h5M273.0,215.4v5M255.7,219.0h5M258.2,216.5v5M273.7,195.3h5M276.2,192.8v5M261.3,212.7h5M263.8,210.2v5M255.0,216.8h5M257.5,214.3v5M272.8,226.7h5M275.3,224.2v5M267.0,217.0h5M269.5,214.5v5M269.7,203.4h5M272.2,200.9v5M217.0,218.4h5M219.5,215.9v5M228.1,215.0h5M230.6,212.5v5M236.2,221.5h5M238.7,219.0v5M236.3,219.7h5M238.8,217.2v5M244.6,218.7h5M247.1,216.2v5M230.4,218.3h5M232.9,215.8v5M243.5,220.9h5M246.0,218.4v5M237.3,223.3h5M239.8,220.8v5M217.7,220.3h5M220.2,217.8v5M237.6,223.3h5M240.1,220.8v5M239.6,219.1h5M242.1,216.6v5M232.4,220.5h5M234.9,218.0v5M233.9,218.6h5M236.4,216.1v5M237.0,223.6h5M239.5,221.1v5M220.3,219.7h5M222.8,217.2v5M217.9,213.9h5M220.4,211.4v5M219.5,216.5h5M222.0,214.0v5M241.3,222.3h5M243.8,219.8v5M246.4,209.5h5M248.9,207.0v5M212.1,218.3h5M214.6,215.8v5M300.9,191.4h5M303.4,188.9v5M299.7,207.8h5M302.2,205.3v5M288.7,188.4h5M291.2,185.9v5M275.2,209.9h5M277.7,207.4v5M301.6,212.9h5M304.1,210.4v5M278.6,186.8h5M281.1,184.3v5M274.2,217.7h5M276.7,215.2v5M274.5,223.6h5M277.0,221.1v5M293.7,195.4h5M296.2,192.9v5M282.5,212.4h5M285.0,209.9v5M275.3,224.0h5M277.8,221.5v5M294.3,216.6h5M296.8,214.1v5M289.6,186.4h5M292.1,183.9v5M283.8,199.6h5M286.3,197.1v5M274.8,230.5h5M277.3,228.0v5M281.1,210.4h5M283.6,207.9v5M302.2,208.9h5M304.7,206.4v5M294.9,197.2h5M297.4,194.7v5M276.6,204.2h5M279.1,201.7v5M278.0,217.1h5M280.5,214.6v5M300.9,216.3h5M303.4,213.8v5M291.2,223.4h5M293.7,220.9v5M278.7,226.8h5M281.2,224.3v5M281.4,209.6h5M283.9,207.1v5M288.1,216.2h5M290.6,213.7v5M302.7,220.8h5M305.2,218.3v5M287.9,232.6h5M290.4,230.1v5M284.8,201.7h5M287.3,199.2v5M296.7,209.7h5M299.2,207.2v5M278.6,203.6h5M281.1,201.1v5M300.0,203.8h5M302.5,201.3v5M296.4,220.1h5M298.9,217.6v5M281.8,216.9h5M284.3,214.4v5M301.2,204.4h5M303.7,201.9v5M280.3,213.0h5M282.8,210.5v5M299.8,222.2h5M302.3,219.7v5M301.5,212.9h5M304.0,210.4v5M300.8,221.0h5M303.3,218.5v5M301.5,210.6h5M304.0,208.1v5M293.4,218.1h5M295.9,215.6v5M284.0,216.5h5M286.5,214.0v5M297.5,219.1h5M300.0,216.6v5M299.4,232.6h5M301.9,230.1v5M284.9,209.6h5M287.4,207.1v5M293.1,228.9h5M295.6,226.4v5M295.0,204.1h5M297.5,201.6v5M275.1,202.4h5M277.6,199.9v5M282.3,200.3h5M284.8,197.8v5M293.9,204.6h5M296.4,202.1v5M281.4,193.2h5M283.9,190.7v5M275.9,214.6h5M278.4,212.1v5M298.6,214.7h5M301.1,212.2v5M288.9,221.2h5M291.4,218.7v5M280.4,212.8h5M282.9,210.3v5M294.9,216.0h5M297.4,213.5v5M290.7,206.0h5M293.2,203.5v5M284.1,217.3h5M286.6,214.8v5M301.7,224.8h5M304.2,222.3v5M292.9,232.1h5M295.4,229.6v5M295.9,212.0h5M298.4,209.5v5M301.7,228.1h5M304.2,225.6v5M284.2,209.7h5M286.7,207.2v5M282.5,217.0h5M285.0,214.5v5M273.6,207.5h5M276.1,205.0v5M287.9,218.9h5M290.4,216.4v5M294.6,231.6h5M297.1,229.1v5M282.9,222.8h5M285.4,220.3v5M295.2,206.0h5M297.7,203.5v5M297.5,209.7h5M300.0,207.2v5M297.2,193.6h5M299.7,191.1v5M288.0,190.3h5M290.5,187.8v5M275.3,223.8h5M277.8,221.3v5M298.8,222.2h5M301.3,219.7v5M280.2,223.0h5M282.7,220.5v5M294.6,206.5h5M297.1,204.0v5M283.6,224.0h5M286.1,221.5v5M294.2,195.8h5M296.7,193.3v5M288.2,213.1h5M290.7,210.6v5M294.3,206.9h5M296.8,204.4v5M281.1,209.4h5M283.6,206.9v5M302.4,213.4h5M304.9,210.9v5M294.7,197.2h5M297.2,194.7v5M287.9,216.9h5M290.4,214.4v5M300.6,204.4h5M303.1,201.9v5M298.0,197.1h5M300.5,194.6v5M275.4,196.3h5M277.9,193.8v5M294.5,226.9h5M297.0,224.4v5M297.4,199.8h5M299.9,197.3v5M291.7,232.2h5M294.2,229.7v5M298.3,218.1h5M300.8,215.6v5M301.1,214.6h5M303.6,212.1v5M281.2,225.8h5M283.7,223.3v5M288.1,201.6h5M290.6,199.1v5M281.9,202.9h5M284.4,200.4v5M273.4,219.4h5M275.9,216.9v5M301.3,214.5h5M303.8,212.0v5M277.9,224.9h5M280.4,222.4v5M279.2,213.6h5M281.7,211.1v5M303.3,226.7h5M305.8,224.2v5M288.0,207.0h5M290.5,204.5v5M294.6,224.6h5M297.1,222.1v5M299.7,213.6h5M302.2,211.1v5M301.6,215.4h5M304.1,212.9v5M281.1,210.7h5M283.6,208.2v5M276.1,206.4h5M278.6,203.9v5M293.8,225.3h5M296.3,222.8v5M282.3,223.5h5M284.8,221.0v5M294.9,192.0h5M297.4,189.5v5M287.3,202.7h5M289.8,200.2v5M288.7,203.5h5M291.2,201.0v5M302.8,226.0h5M305.3,223.5v5M292.7,226.6h5M295.2,224.1v5M276.7,193.0h5M279.2,190.5v5M301.8,222.0h5M304.3,219.5v5M300.5,232.4h5M303.0,229.9v5M301.1,213.4h5M303.6,210.9v5M280.2,209.5h5M282.7,207.0v5M282.1,208.2h5M284.6,205.7v5M289.7,210.8h5M292.2,208.3v5M288.0,210.4h5M290.5,207.9v5M285.5,221.2h5M288.0,218.7v5M277.9,206.3h5M280.4,203.8v5M291.2,202.5h5M293.7,200.0v5M294.9,200.1h5M297.4,197.6v5M294.1,209.9h5M296.6,207.4v5M279.6,200.3h5M282.1,197.8v5M280.6,189.1h5M283.1,186.6v5M302.3,218.2h5M304.8,215.7v5M274.6,206.5h5M277.1,204.0v5M275.1,224.7h5M277.6,222.2v5M285.1,198.0h5M287.6,195.5v5M280.2,194.7h5M282.7,192.2v5M274.2,216.8h5M276.7,214.3v5M281.1,188.6h5M283.6,186.1v5M294.3,203.5h5M296.8,201.0v5M295.2,209.5h5M297.7,207.0v5M276.5,205.6h5M279.0,203.1v5M287.1,223.3h5M289.6,220.8v5M301.2,206.8h5M303.7,204.3v5M282.7,203.5h5M285.2,201.0v5M288.0,212.2h5M290.5,209.7v5M288.6,196.8h5M291.1,194.3v5M299.2,221.7h5M301.7,219.2v5M287.5,204.6h5M290.0,202.1v5M284.3,221.8h5M286.8,219.3v5M291.5,211.8h5M294.0,209.3v5M299.1,190.8h5M301.6,188.3v5M284.2,220.7h5M286.7,218.2v5M295.5,224.0h5M298.0,221.5v5M301.2,221.7h5M303.7,219.2v5M263.8,187.7h5M266.3,185.2v5M261.2,210.4h5M263.7,207.9v5M257.3,197.0h5M259.8,194.5v5M296.5,225.0h5M299.0,222.5v5M279.4,222.1h5M281.9,219.6v5M284.4,241.1h5M286.9,238.6v5M284.1,200.2h5M286.6,197.7v5M250.0,215.4h5M252.5,212.9v5M282.5,231.0h5M285.0,228.5v5M251.3,215.0h5M253.8,212.5v5M300.8,223.3h5M303.3,220.8v5M288.6,205.7h5M291.1,203.2v5M304.4,206.2h5M306.9,203.7v5M282.8,208.9h5M285.3,206.4v5M287.1,210.5h5M289.6,208.0v5M293.3,190.0h5M295.8,187.5v5M291.9,196.2h5M294.4,193.7v5M283.6,193.3h5M286.1,190.8v5M267.5,214.3h5M270.0,211.8v5M271.8,192.1h5M274.3,189.6v5M268.0,231.6h5M270.5,229.1v5M267.5,188.5h5M270.0,186.0v5M286.6,196.2h5M289.1,193.7v5M248.0,206.2h5M250.5,203.7v5M249.8,202.8h5M252.3,200.3v5M287.3,235.5h5M289.8,233.0v5M301.1,199.2h5M303.6,196.7v5M303.3,249.6h5M305.8,247.1v5M288.7,204.1h5M291.2,201.6v5M257.2,201.2h5M259.7,198.7v5M284.0,208.1h5M286.5,205.6v5M299.3,191.3h5M301.8,188.8v5M251.1,220.9h5M253.6,218.4v5M298.2,222.1h5M300.7,219.6v5M256.3,223.8h5M258.8,221.3v5M363.8,47.4h5M366.3,44.9v5M363.8,56.3h5M366.3,53.8v5M363.8,64.8h5M366.3,62.3v5M363.8,67.7h5M366.3,65.2v5M363.8,73.3h5M366.3,70.8v5M363.8,79.0h5M366.3,76.5v5M363.8,84.5h5M366.3,82.0v5M363.8,86.2h5M366.3,83.7v5M363.8,102.3h5M366.3,99.8v5M363.4,108.7h5M365.9,106.2v5M390.4,49.9h5M392.9,47.4v5M390.4,64.8h5M392.9,62.3v5M404.9,73.2h5M407.4,70.7v5M426.2,40.3h5M428.7,37.8v5M425.8,55.4h5M428.3,52.9v5M427.1,60.2h5M429.6,57.7v5M431.4,62.5h5M433.9,60.0v5M425.8,70.0h5M428.3,67.5v5M426.6,71.0h5M429.1,68.5v5M425.8,75.2h5M428.3,72.7v5M425.8,79.6h5M428.3,77.1v5M453.3,51.4h5M455.8,48.9v5M457.3,55.9h5M459.8,53.4v5M466.6,58.3h5M469.1,55.8v5M457.3,64.1h5M459.8,61.6v5M463.6,64.1h5M466.1,61.6v5M457.3,69.4h5M459.8,66.9v5M462.3,69.4h5M464.8,66.9v5M475.8,66.2h5M478.3,63.7v5M475.8,68.6h5M478.3,66.1v5M480.6,67.3h5M483.1,64.8v5M475.8,73.7h5M478.3,71.2v5M467.1,74.6h5M469.6,72.1v5M467.9,78.1h5M470.4,75.6v5M471.1,79.4h5M473.6,76.9v5M471.1,82.5h5M473.6,80.0v5M466.6,87.8h5M469.1,85.3v5M471.1,89.2h5M473.6,86.7v5M471.4,90.8h5M473.9,88.3v5M471.1,95.1h5M473.6,92.6v5M470.8,96.2h5M473.3,93.7v5M480.9,92.4h5M483.4,89.9v5M484.6,98.3h5M487.1,95.8v5M462.3,100.3h5M464.8,97.8v5M457.6,105.7h5M460.1,103.2v5M466.0,111.7h5M468.5,109.2v5M525.8,40.0h5M528.3,37.5v5M529.6,43.2h5M532.1,40.7v5M516.9,43.8h5M519.4,41.3v5M521.1,48.3h5M523.6,45.8v5M516.6,52.7h5M519.1,50.2v5M516.6,55.7h5M519.1,53.2v5M516.6,58.6h5M519.1,56.1v5M511.5,59.5h5M514.0,57.0v5M511.5,62.7h5M514.0,60.2v5M521.1,62.1h5M523.6,59.6v5M516.6,64.0h5M519.1,61.5v5M516.6,67.1h5M519.1,64.6v5M521.1,66.5h5M523.6,64.0v5M530.6,57.0h5M533.1,54.5v5M530.0,64.0h5M532.5,61.5v5M525.5,66.5h5M528.0,64.0v5M525.5,70.3h5M528.0,67.8v5M530.6,69.0h5M533.1,66.5v5M512.2,74.1h5M514.7,71.6v5M516.6,76.7h5M519.1,74.2v5M508.4,79.5h5M510.9,77.0v5M513.5,80.5h5M516.0,78.0v5M516.6,81.7h5M519.1,79.2v5M520.4,75.4h5M522.9,72.9v5M525.5,77.3h5M528.0,74.8v5M529.3,77.3h5M531.8,74.8v5M529.3,80.5h5M531.8,78.0v5M525.5,80.5h5M528.0,78.0v5M512.8,84.3h5M515.3,81.8v5M516.6,85.6h5M519.1,83.1v5M521.1,84.9h5M523.6,82.4v5M530.6,84.3h5M533.1,81.8v5M530.6,88.1h5M533.1,85.6v5M508.4,88.7h5M510.9,86.2v5M521.7,88.1h5M524.2,85.6v5M508.4,90.4h5M510.9,87.9v5M513.1,91.2h5M515.6,88.7v5M516.3,91.2h5M518.8,88.7v5M508.4,96.7h5M510.9,94.2v5M513.1,95.1h5M515.6,92.6v5M516.3,95.9h5M518.8,93.4v5M513.1,99.1h5M515.6,96.6v5M522.7,89.6h5M525.2,87.1v5M522.7,94.3h5M525.2,91.8v5M526.6,95.9h5M529.1,93.4v5M530.6,91.2h5M533.1,88.7v5M530.6,95.9h5M533.1,93.4v5M530.6,99.9h5M533.1,97.4v5M517.1,103.9h5M519.6,101.4v5M508.4,104.7h5M510.9,102.2v5M517.1,107.8h5M519.6,105.3v5M521.9,110.2h5M524.4,107.7v5M529.8,107.0h5M532.3,104.5v5M529.8,111.0h5M532.3,108.5v5M516.3,112.6h5M518.8,110.1v5M520.3,118.2h5M522.8,115.7v5M529.0,121.3h5M531.5,118.8v5M517.1,133.2h5M519.6,130.7v5M561.5,24.8h5M564.0,22.3v5M570.3,25.7h5M572.8,23.2v5M570.3,35.6h5M572.8,33.1v5M534.4,45.7h5M536.9,43.2v5M562.0,51.7h5M564.5,49.2v5M570.3,51.7h5M572.8,49.2v5M566.2,53.4h5M568.7,50.9v5M534.4,62.1h5M536.9,59.6v5M538.2,62.7h5M540.7,60.2v5M538.8,66.5h5M541.3,64.0v5M544.6,65.2h5M547.1,62.7v5M534.4,69.0h5M536.9,66.5v5M534.4,72.2h5M536.9,69.7v5M534.4,75.4h5M536.9,72.9v5M538.2,77.3h5M540.7,74.8v5M538.2,81.1h5M540.7,78.6v5M543.9,72.9h5M546.4,70.4v5M543.9,76.7h5M546.4,74.2v5M543.9,80.5h5M546.4,78.0v5M549.0,72.9h5M551.5,70.4v5M548.4,76.7h5M550.9,74.2v5M548.4,80.5h5M550.9,78.0v5M548.4,84.3h5M550.9,81.8v5M534.4,82.4h5M536.9,79.9v5M534.4,85.6h5M536.9,83.1v5M537.6,85.6h5M540.1,83.1v5M541.4,83.7h5M543.9,81.2v5M561.7,55.1h5M564.2,52.6v5M566.2,55.1h5M568.7,52.6v5M570.0,55.1h5M572.5,52.6v5M561.7,61.4h5M564.2,58.9v5M561.7,64.0h5M564.2,61.5v5M566.2,59.5h5M568.7,57.0v5M570.0,60.2h5M572.5,57.7v5M570.0,64.0h5M572.5,61.5v5M566.2,67.1h5M568.7,64.6v5M566.2,70.3h5M568.7,67.8v5M557.9,69.0h5M560.4,66.5v5M534.9,91.2h5M537.4,88.7v5M543.6,92.8h5M546.1,90.3v5M543.6,95.9h5M546.1,93.4v5M547.6,90.4h5M550.1,87.9v5M543.3,105.1h5M545.8,102.6v5M538.8,122.9h5M541.3,120.4v5M561.1,103.9h5M563.6,101.4v5M561.1,107.0h5M563.6,104.5v5M565.8,104.7h5M568.3,102.2v5M565.8,109.4h5M568.3,106.9v5M561.1,113.4h5M563.6,110.9v5M561.1,117.4h5M563.6,114.9v5M561.1,119.7h5M563.6,117.2v5M565.8,116.6h5M568.3,114.1v5M565.8,119.7h5M568.3,117.2v5M570.6,103.9h5M573.1,101.4v5M578.8,27.3h5M581.3,24.8v5M587.7,27.3h5M590.2,24.8v5M597.3,28.6h5M599.8,26.1v5M575.7,41.3h5M578.2,38.8v5M574.4,45.1h5M576.9,42.6v5M579.5,46.8h5M582.0,44.3v5M588.4,42.2h5M590.9,39.7v5M602.3,40.7h5M604.8,38.2v5M610.0,36.9h5M612.5,34.4v5M610.0,40.0h5M612.5,37.5v5M610.0,43.8h5M612.5,41.3v5M574.4,50.8h5M576.9,48.3v5M583.7,51.5h5M586.2,49.0v5M588.4,51.5h5M590.9,49.0v5M602.0,49.8h5M604.5,47.3v5M606.2,51.5h5M608.7,49.0v5M610.0,52.7h5M612.5,50.2v5M579.6,106.7h5M582.1,104.2v5M574.9,110.2h5M577.4,107.7v5M574.9,115.8h5M577.4,113.3v5M588.4,103.9h5M590.9,101.4v5M588.4,108.6h5M590.9,106.1v5M593.9,106.7h5M596.4,104.2v5M596.3,106.7h5M598.8,104.2v5M605.8,106.7h5M608.3,104.2v5M610.6,108.6h5M613.1,106.1v5M588.1,117.4h5M590.6,114.9v5M579.6,123.7h5M582.1,121.2v5M584.4,125.3h5M586.9,122.8v5M605.8,130.5h5M608.3,128.0v5M610.8,36.9h5M613.3,34.4v5M624.7,35.0h5M627.2,32.5v5M624.7,40.7h5M627.2,38.2v5M624.7,43.8h5M627.2,41.3v5M624.7,49.6h5M627.2,47.1v5M624.7,52.1h5M627.2,49.6v5M606.3,51.5h5M608.8,49.0v5M610.8,52.1h5M613.3,49.6v5M615.2,52.1h5M617.7,49.6v5M606.5,106.3h5M609.0,103.8v5M610.4,103.9h5M612.9,101.4v5M610.4,109.4h5M612.9,106.9v5M616.5,106.3h5M619.0,103.8v5M620.0,101.5h5M622.5,99.0v5M620.0,103.9h5M622.5,101.4v5M623.9,100.7h5M626.4,98.2v5M624.7,112.6h5M627.2,110.1v5M616.0,117.8h5M618.5,115.3v5M620.8,117.4h5M623.3,114.9v5M624.7,116.6h5M627.2,114.1v5M619.6,126.9h5M622.1,124.4v5M606.0,130.5h5M608.5,128.0v5M620.7,85.0h5M623.2,82.5v5M606.6,89.2h5M609.1,86.7v5M586.9,78.0h5M589.4,75.5v5M563.1,87.2h5M565.6,84.7v5M627.5,78.9h5M630.0,76.4v5M583.4,70.5h5M585.9,68.0v5M570.9,90.4h5M573.4,87.9v5M586.8,67.8h5M589.3,65.3v5M574.0,79.8h5M576.5,77.3v5M558.1,75.7h5M560.6,73.2v5M558.3,76.6h5M560.8,74.1v5M621.4,82.0h5M623.9,79.5v5M571.5,84.3h5M574.0,81.8v5M569.8,83.0h5M572.3,80.5v5M567.3,75.2h5M569.8,72.7v5M602.6,76.2h5M605.1,73.7v5M628.0,88.9h5M630.5,86.4v5M623.8,78.6h5M626.3,76.1v5M566.4,81.4h5M568.9,78.9v5M596.3,74.9h5M598.8,72.4v5M591.2,79.8h5M593.7,77.3v5M628.7,79.6h5M631.2,77.1v5M594.8,90.9h5M597.3,88.4v5M574.6,77.1h5M577.1,74.6v5M612.2,82.3h5M614.7,79.8v5M598.7,75.4h5M601.2,72.9v5M622.6,77.7h5M625.1,75.2v5M611.7,73.9h5M614.2,71.4v5M624.1,75.7h5M626.6,73.2v5M629.0,76.2h5M631.5,73.7v5M587.9,82.1h5M590.4,79.6v5M595.4,72.2h5M597.9,69.7v5M557.8,81.5h5M560.3,79.0v5M613.2,84.8h5M615.7,82.3v5M563.5,73.4h5M566.0,70.9v5M599.0,83.0h5M601.5,80.5v5M604.8,83.1h5M607.3,80.6v5M574.8,74.0h5M577.3,71.5v5M578.0,79.7h5M580.5,77.2v5M569.6,80.4h5M572.1,77.9v5M615.2,77.5h5M617.7,75.0v5M586.7,78.8h5M589.2,76.3v5M558.5,80.6h5M561.0,78.1v5M599.1,71.8h5M601.6,69.3v5M563.5,81.6h5M566.0,79.1v5M582.5,71.0h5M585.0,68.5v5M557.5,72.4h5M560.0,69.9v5M603.8,82.5h5M606.3,80.0v5M566.2,82.5h5M568.7,80.0v5M606.1,78.9h5M608.6,76.4v5M578.3,81.8h5M580.8,79.3v5M611.6,89.9h5M614.1,87.4v5M613.2,73.6h5M615.7,71.1v5M628.4,76.3h5M630.9,73.8v5M612.6,81.5h5M615.1,79.0v5M628.0,83.8h5M630.5,81.3v5M569.6,81.2h5M572.1,78.7v5M612.1,70.7h5M614.6,68.2v5M604.6,77.1h5M607.1,74.6v5M559.3,70.2h5M561.8,67.7v5M604.3,87.9h5M606.8,85.4v5M627.9,78.4h5M630.4,75.9v5M628.9,77.7h5M631.4,75.2v5M612.2,63.4h5M614.7,60.9v5M627.9,74.5h5M630.4,72.0v5M611.3,83.6h5M613.8,81.1v5M573.8,76.1h5M576.3,73.6v5M565.9,77.3h5M568.4,74.8v5M571.0,70.3h5M573.5,67.8v5M608.3,83.6h5M610.8,81.1v5M628.8,71.3h5M631.3,68.8v5M595.9,78.9h5M598.4,76.4v5M627.9,87.1h5M630.4,84.6v5M579.0,93.1h5M581.5,90.6v5M592.0,79.0h5M594.5,76.5v5M623.3,66.9h5M625.8,64.4v5M577.9,74.3h5M580.4,71.8v5M613.9,80.7h5M616.4,78.2v5M606.6,83.1h5M609.1,80.6v5M624.4,73.5h5M626.9,71.0v5M626.4,83.2h5M628.9,80.7v5M599.2,82.5h5M601.7,80.0v5M566.9,87.0h5M569.4,84.5v5M565.1,79.5h5M567.6,77.0v5M586.3,83.5h5M588.8,81.0v5M559.7,78.6h5M562.2,76.1v5M575.7,73.5h5M578.2,71.0v5M562.8,76.5h5M565.3,74.0v5M566.1,76.2h5M568.6,73.7v5M583.0,70.5h5M585.5,68.0v5M576.5,82.4h5M579.0,79.9v5M575.6,82.8h5M578.1,80.3v5M579.5,83.5h5M582.0,81.0v5M570.7,72.6h5M573.2,70.1v5M628.4,84.8h5M630.9,82.3v5M588.2,78.6h5M590.7,76.1v5M615.4,80.2h5M617.9,77.7v5M602.4,80.8h5M604.9,78.3v5M579.2,78.4h5M581.7,75.9v5M628.7,87.3h5M631.2,84.8v5M623.6,85.4h5M626.1,82.9v5M571.5,75.3h5M574.0,72.8v5M567.0,82.0h5M569.5,79.5v5M618.5,84.2h5M621.0,81.7v5M599.5,86.4h5M602.0,83.9v5M582.6,71.6h5M585.1,69.1v5M612.0,68.3h5M614.5,65.8v5M586.5,78.8h5M589.0,76.3v5M602.8,75.3h5M605.3,72.8v5M603.5,76.8h5M606.0,74.3v5M611.1,79.9h5M613.6,77.4v5M580.0,72.1h5M582.5,69.6v5M602.1,76.8h5M604.6,74.3v5M565.7,70.8h5M568.2,68.3v5M603.6,86.5h5M606.1,84.0v5M563.5,79.0h5M566.0,76.5v5M611.0,79.6h5M613.5,77.1v5M566.6,78.3h5M569.1,75.8v5M577.9,80.9h5M580.4,78.4v5M619.6,89.7h5M622.1,87.2v5M628.3,89.2h5M630.8,86.7v5M589.7,76.5h5M592.2,74.0v5M605.3,78.1h5M607.8,75.6v5M571.8,75.4h5M574.3,72.9v5M603.1,76.5h5M605.6,74.0v5M571.6,83.4h5M574.1,80.9v5M621.4,74.5h5M623.9,72.0v5M613.0,84.3h5M615.5,81.8v5M570.5,74.7h5M573.0,72.2v5M591.4,74.1h5M593.9,71.6v5M575.0,87.3h5M577.5,84.8v5M603.5,74.4h5M606.0,71.9v5M570.1,77.3h5M572.6,74.8v5M567.5,75.6h5M570.0,73.1v5M603.4,79.2h5M605.9,76.7v5M629.0,71.3h5M631.5,68.8v5M572.0,72.9h5M574.5,70.4v5M606.4,87.0h5M608.9,84.5v5M611.2,68.9h5M613.7,66.4v5M627.5,74.2h5M630.0,71.7v5M583.0,68.9h5M585.5,66.4v5M605.7,78.9h5M608.2,76.4v5M565.8,70.2h5M568.3,67.7v5M621.0,84.9h5M623.5,82.4v5M618.7,79.0h5M621.2,76.5v5M558.7,81.1h5M561.2,78.6v5M570.8,80.2h5M573.3,77.7v5M595.3,76.2h5M597.8,73.7v5M628.9,80.4h5M631.4,77.9v5M611.4,70.8h5M613.9,68.3v5M585.8,79.8h5M588.3,77.3v5M615.5,82.4h5M618.0,79.9v5M595.6,77.6h5M598.1,75.1v5M578.9,78.7h5M581.4,76.2v5M616.9,75.3h5M619.4,72.8v5M620.4,78.7h5M622.9,76.2v5M562.9,74.3h5M565.4,71.8v5M623.6,75.1h5M626.1,72.6v5M558.9,88.8h5M561.4,86.3v5M573.7,84.2h5M576.2,81.7v5M558.8,76.2h5M561.3,73.7v5M570.0,76.6h5M572.5,74.1v5M574.9,72.4h5M577.4,69.9v5M579.3,85.7h5M581.8,83.2v5M611.3,78.3h5M613.8,75.8v5M627.0,87.9h5M629.5,85.4v5M568.1,84.8h5M570.6,82.3v5M599.6,83.1h5M602.1,80.6v5M596.7,77.8h5M599.2,75.3v5M602.4,83.7h5M604.9,81.2v5M611.7,71.2h5M614.2,68.7v5M603.4,87.8h5M605.9,85.3v5M571.2,96.3h5M573.7,93.8v5M605.0,78.8h5M607.5,76.3v5M574.1,79.1h5M576.6,76.6v5M607.5,80.3h5M610.0,77.8v5M628.3,81.0h5M630.8,78.5v5M582.7,85.5h5M585.2,83.0v5M570.5,78.6h5M573.0,76.1v5M620.3,77.9h5M622.8,75.4v5M624.2,76.8h5M626.7,74.3v5M583.2,72.9h5M585.7,70.4v5M615.6,84.5h5M618.1,82.0v5M628.5,74.5h5M631.0,72.0v5M581.5,86.4h5M584.0,83.9v5M624.5,69.7h5M627.0,67.2v5M566.9,83.6h5M569.4,81.1v5M562.2,79.7h5M564.7,77.2v5M569.7,84.8h5M572.2,82.3v5M603.6,82.7h5M606.1,80.2v5M567.5,83.4h5M570.0,80.9v5M587.4,84.7h5M589.9,82.2v5M570.2,81.5h5M572.7,79.0v5M612.7,84.1h5M615.2,81.6v5M574.6,77.7h5M577.1,75.2v5M628.8,75.7h5M631.3,73.2v5M596.0,78.1h5M598.5,75.6v5M595.0,75.4h5M597.5,72.9v5M564.3,75.7h5M566.8,73.2v5M579.3,84.0h5M581.8,81.5v5M599.7,80.2h5M602.2,77.7v5M584.0,79.4h5M586.5,76.9v5M612.6,81.1h5M615.1,78.6v5M612.8,76.2h5M615.3,73.7v5M618.6,69.6h5M621.1,67.1v5M572.2,80.5h5M574.7,78.0v5M624.0,73.5h5M626.5,71.0v5M610.7,78.3h5M613.2,75.8v5M570.2,81.4h5M572.7,78.9v5M582.0,78.0h5M584.5,75.5v5M566.9,86.5h5M569.4,84.0v5M587.1,86.6h5M589.6,84.1v5M607.1,86.6h5M609.6,84.1v5M584.1,76.3h5M586.6,73.8v5M571.1,90.5h5M573.6,88.0v5M605.2,77.4h5M607.7,74.9v5M570.1,75.5h5M572.6,73.0v5M583.0,75.9h5M585.5,73.4v5M557.9,76.9h5M560.4,74.4v5M566.6,76.6h5M569.1,74.1v5M582.4,86.8h5M584.9,84.3v5M567.0,76.2h5M569.5,73.7v5M625.7,72.8h5M628.2,70.3v5M623.9,79.9h5M626.4,77.4v5M606.8,75.3h5M609.3,72.8v5M622.0,76.9h5M624.5,74.4v5M559.2,75.7h5M561.7,73.2v5M599.6,80.2h5M602.1,77.7v5M561.9,82.2h5M564.4,79.7v5M627.2,78.0h5M629.7,75.5v5M562.3,83.3h5M564.8,80.8v5M575.7,68.6h5M578.2,66.1v5M582.8,84.3h5M585.3,81.8v5M563.3,79.2h5M565.8,76.7v5M570.5,76.5h5M573.0,74.0v5M608.5,79.6h5M611.0,77.1v5M586.8,79.6h5M589.3,77.1v5M588.5,87.8h5M591.0,85.3v5M616.5,83.1h5M619.0,80.6v5M570.2,73.8h5M572.7,71.3v5M582.8,73.6h5M585.3,71.1v5M578.3,82.7h5M580.8,80.2v5M591.2,67.9h5M593.7,65.4v5M603.1,73.2h5M605.6,70.7v5M570.7,74.8h5M573.2,72.3v5M570.0,77.6h5M572.5,75.1v5M616.5,73.7h5M619.0,71.2v5M624.5,70.4h5M627.0,67.9v5M574.1,87.1h5M576.6,84.6v5M595.1,80.0h5M597.6,77.5v5M555.9,88.2h5M558.4,85.7v5M554.2,71.6h5M556.7,69.1v5M554.6,95.4h5M557.1,92.9v5M555.3,72.9h5M557.8,70.4v5M556.1,65.7h5M558.6,63.2v5M555.2,83.0h5M557.7,80.5v5M554.2,82.5h5M556.7,80.0v5M554.8,69.4h5M557.3,66.9v5M555.3,81.1h5M557.8,78.6v5M555.7,86.7h5M558.2,84.2v5M556.3,67.7h5M558.8,65.2v5M555.4,87.3h5M557.9,84.8v5M555.4,67.9h5M557.9,65.4v5M555.0,89.1h5M557.5,86.6v5M554.3,75.2h5M556.8,72.7v5M556.0,77.1h5M558.5,74.6v5M555.2,75.1h5M557.7,72.6v5M555.1,68.4h5M557.6,65.9v5M555.4,74.4h5M557.9,71.9v5M555.5,75.5h5M558.0,73.0v5M554.8,87.7h5M557.3,85.2v5M556.0,87.4h5M558.5,84.9v5M556.7,65.8h5M559.2,63.3v5M556.5,91.3h5M559.0,88.8v5M554.3,84.3h5M556.8,81.8v5M555.5,74.8h5M558.0,72.3v5M555.7,83.6h5M558.2,81.1v5M555.8,69.4h5M558.3,66.9v5M554.9,71.7h5M557.4,69.2v5M556.3,91.5h5M558.8,89.0v5M555.0,68.3h5M557.5,65.8v5M554.4,73.9h5M556.9,71.4v5M555.2,71.9h5M557.7,69.4v5M554.9,81.5h5M557.4,79.0v5M555.4,82.0h5M557.9,79.5v5M556.4,86.4h5M558.9,83.9v5M556.2,81.5h5M558.7,79.0v5M555.6,80.8h5M558.1,78.3v5M555.7,70.6h5M558.2,68.1v5M555.6,79.5h5M558.1,77.0v5M610.7,78.2h5M613.2,75.7v5M598.4,75.8h5M600.9,73.3v5M566.7,74.9h5M569.2,72.4v5M595.3,57.8h5M597.8,55.3v5M573.9,80.1h5M576.4,77.6v5M563.0,68.4h5M565.5,65.9v5M562.0,92.0h5M564.5,89.5v5M607.7,75.7h5M610.2,73.2v5M602.2,76.9h5M604.7,74.4v5M587.6,51.4h5M590.1,48.9v5M626.4,81.6h5M628.9,79.1v5M595.2,55.3h5M597.7,52.8v5M604.2,56.2h5M606.7,53.7v5M607.3,80.9h5M609.8,78.4v5M619.6,75.6h5M622.1,73.1v5M562.5,103.9h5M565.0,101.4v5M570.2,55.0h5M572.7,52.5v5M579.2,68.3h5M581.7,65.8v5M612.5,83.5h5M615.0,81.0v5M619.4,63.2h5M621.9,60.7v5M564.2,75.1h5M566.7,72.6v5M611.2,78.6h5M613.7,76.1v5M559.3,103.5h5M561.8,101.0v5M626.4,72.9h5M628.9,70.4v5M611.5,53.1h5M614.0,50.6v5M566.4,46.3h5M568.9,43.8v5M629.1,67.4h5M631.6,64.9v5M599.1,87.9h5M601.6,85.4v5M575.6,74.2h5M578.1,71.7v5M597.5,82.1h5M600.0,79.6v5M578.3,47.8h5M580.8,45.3v5M626.9,78.3h5M629.4,75.8v5M611.9,90.5h5M614.4,88.0v5M608.7,88.1h5M611.2,85.6v5M627.9,105.4h5M630.4,102.9v5M575.8,55.0h5M578.3,52.5v5M558.9,69.2h5M561.4,66.7v5M586.3,88.4h5M588.8,85.9v5M574.4,92.4h5M576.9,89.9v5M598.5,76.7h5M601.0,74.2v5M602.9,87.6h5M605.4,85.1v5M590.2,60.8h5M592.7,58.3v5M558.8,76.6h5M561.3,74.1v5M620.3,62.5h5M622.8,60.0v5M615.5,56.2h5M618.0,53.7v5M599.3,93.0h5M601.8,90.5v5M578.2,83.7h5M580.7,81.2v5M570.3,66.0h5M572.8,63.5v5M591.1,77.2h5M593.6,74.7v5M612.7,92.5h5M615.2,90.0v5M619.4,97.5h5M621.9,95.0v5M569.7,79.0h5M572.2,76.5v5M610.9,86.1h5M613.4,83.6v5M586.7,54.4h5M589.2,51.9v5M587.6,46.2h5M590.1,43.7v5M628.9,59.5h5M631.4,57.0v5M583.4,92.1h5M585.9,89.6v5M620.1,95.7h5M622.6,93.2v5M610.9,74.0h5M613.4,71.5v5M627.2,83.1h5M629.7,80.6v5M570.8,74.3h5M573.3,71.8v5M616.1,66.9h5M618.6,64.4v5M569.9,85.4h5M572.4,82.9v5M571.2,56.8h5M573.7,54.3v5M585.5,94.4h5M588.0,91.9v5M606.0,73.3h5M608.5,70.8v5M586.4,94.4h5M588.9,91.9v5M557.4,80.4h5M559.9,77.9v5M557.5,55.8h5M560.0,53.3v5M562.4,99.8h5M564.9,97.3v5M615.9,88.1h5M618.4,85.6v5M586.8,58.9h5M589.3,56.4v5M588.8,99.2h5M591.3,96.7v5M610.3,79.1h5M612.8,76.6v5M585.9,98.8h5M588.4,96.3v5M567.1,75.8h5M569.6,73.3v5M612.0,89.7h5M614.5,87.2v5M584.2,71.1h5M586.7,68.6v5M579.7,62.1h5M582.2,59.6v5M610.3,45.9h5M612.8,43.4v5M571.5,69.0h5M574.0,66.5v5M609.3,105.4h5M611.8,102.9v5M570.8,61.1h5M573.3,58.6v5M558.2,87.3h5M560.7,84.8v5M556.4,92.7h5M558.9,90.2v5M561.9,55.2h5M564.4,52.7v5M603.3,77.2h5M605.8,74.7v5M574.1,80.7h5M576.6,78.2v5M610.7,77.0h5M613.2,74.5v5M557.4,73.3h5M559.9,70.8v5M579.7,51.3h5M582.2,48.8v5M624.4,95.1h5M626.9,92.6v5M624.4,74.6h5M626.9,72.1v5M582.3,64.4h5M584.8,61.9v5M573.2,95.0h5M575.7,92.5v5M602.5,72.3h5M605.0,69.8v5M599.4,67.3h5M601.9,64.8v5M623.2,58.9h5M625.7,56.4v5M623.8,87.3h5M626.3,84.8v5M563.1,59.6h5M565.6,57.1v5M599.3,85.1h5M601.8,82.6v5M623.6,59.5h5M626.1,57.0v5M617.1,89.9h5M619.6,87.4v5M591.2,44.4h5M593.7,41.9v5M608.2,76.9h5M610.7,74.4v5M627.9,54.1h5M630.4,51.6v5M567.2,101.1h5M569.7,98.6v5M562.6,79.0h5M565.1,76.5v5M611.5,96.6h5M614.0,94.1v5M565.7,88.2h5M568.2,85.7v5M621.3,93.3h5M623.8,90.8v5M619.2,64.1h5M621.7,61.6v5M602.9,80.9h5M605.4,78.4v5M619.4,56.6h5M621.9,54.1v5M607.8,74.4h5M610.3,71.9v5M593.4,94.3h5M595.9,91.8v5M571.2,54.3h5M573.7,51.8v5M558.2,76.5h5M560.7,74.0v5M610.8,99.4h5M613.3,96.9v5M616.5,88.0h5M619.0,85.5v5M597.9,54.4h5M600.4,51.9v5M570.2,94.8h5M572.7,92.3v5M575.2,92.9h5M577.7,90.4v5M599.2,77.5h5M601.7,75.0v5M557.4,65.2h5M559.9,62.7v5M569.5,86.7h5M572.0,84.2v5M562.1,70.1h5M564.6,67.6v5M625.1,98.1h5M627.6,95.6v5M607.7,54.2h5M610.2,51.7v5M610.6,97.3h5M613.1,94.8v5M612.7,65.7h5M615.2,63.2v5M611.9,105.7h5M614.4,103.2v5M601.5,97.7h5M604.0,95.2v5M623.9,92.1h5M626.4,89.6v5M587.1,87.9h5M589.6,85.4v5M557.0,91.6h5M559.5,89.1v5M603.9,71.1h5M606.4,68.6v5M615.3,55.7h5M617.8,53.2v5M562.9,65.1h5M565.4,62.6v5M625.7,74.7h5M628.2,72.2v5M579.1,60.5h5M581.6,58.0v5M599.4,54.2h5M601.9,51.7v5M599.5,82.7h5M602.0,80.2v5M587.2,61.9h5M589.7,59.4v5M610.8,102.0h5M613.3,99.5v5M586.7,71.3h5M589.2,68.8v5M618.7,81.4h5M621.2,78.9v5M620.4,74.9h5M622.9,72.4v5M616.9,83.7h5M619.4,81.2v5M618.5,77.4h5M621.0,74.9v5M560.9,96.9h5M563.4,94.4v5M569.8,103.9h5M572.3,101.4v5M565.6,73.7h5M568.1,71.2v5M558.4,64.3h5M560.9,61.8v5M571.1,80.3h5M573.6,77.8v5M608.3,96.1h5M610.8,93.6v5M600.9,50.4h5M603.4,47.9v5M570.0,56.5h5M572.5,54.0v5M573.1,99.8h5M575.6,97.3v5M627.9,81.5h5M630.4,79.0v5M581.8,86.8h5M584.3,84.3v5M557.3,106.1h5M559.8,103.6v5M563.1,64.3h5M565.6,61.8v5M606.0,67.8h5M608.5,65.3v5M569.5,52.1h5M572.0,49.6v5M600.2,67.9h5M602.7,65.4v5M561.6,59.8h5M564.1,57.3v5M619.8,60.0h5M622.3,57.5v5M627.6,71.7h5M630.1,69.2v5M571.4,93.0h5M573.9,90.5v5M563.0,53.3h5M565.5,50.8v5M624.1,74.2h5M626.6,71.7v5M578.3,87.4h5M580.8,84.9v5M578.7,70.5h5M581.2,68.0v5M615.3,94.3h5M617.8,91.8v5M557.7,54.6h5M560.2,52.1v5M557.2,57.7h5M559.7,55.2v5M599.9,90.7h5M602.4,88.2v5M619.4,59.0h5M621.9,56.5v5M571.0,62.4h5M573.5,59.9v5M627.7,108.1h5M630.2,105.6v5M573.8,65.8h5M576.3,63.3v5M587.9,95.6h5M590.4,93.1v5M611.7,77.6h5M614.2,75.1v5M583.2,62.7h5M585.7,60.2v5M622.0,55.6h5M624.5,53.1v5M624.8,71.2h5M627.3,68.7v5M562.5,82.4h5M565.0,79.9v5M624.4,95.9h5M626.9,93.4v5M603.0,81.5h5M605.5,79.0v5M600.8,53.7h5M603.3,51.2v5M561.9,90.6h5M564.4,88.1v5M615.0,77.3h5M617.5,74.8v5M615.1,69.1h5M617.6,66.6v5M565.5,78.6h5M568.0,76.1v5M574.3,79.0h5M576.8,76.5v5M587.0,86.7h5M589.5,84.2v5M607.3,56.9h5M609.8,54.4v5M619.8,76.5h5M622.3,74.0v5M570.9,93.7h5M573.4,91.2v5M524.0,71.9h5M526.5,69.4v5M523.6,66.8h5M526.1,64.3v5M510.1,80.8h5M512.6,78.3v5M540.4,78.2h5M542.9,75.7v5M540.5,83.3h5M543.0,80.8v5M511.8,94.6h5M514.3,92.1v5M528.0,78.1h5M530.5,75.6v5M516.3,76.7h5M518.8,74.2v5M520.0,75.8h5M522.5,73.3v5M527.7,91.9h5M530.2,89.4v5M540.2,73.3h5M542.7,70.8v5M540.8,66.1h5M543.3,63.6v5M544.6,75.5h5M547.1,73.0v5M515.8,84.8h5M518.3,82.3v5M529.0,77.4h5M531.5,74.9v5M518.4,71.8h5M520.9,69.3v5M532.1,77.9h5M534.6,75.4v5M541.2,75.1h5M543.7,72.6v5M515.0,80.2h5M517.5,77.7v5M514.5,72.7h5M517.0,70.2v5M510.8,81.3h5M513.3,78.8v5M527.4,80.6h5M529.9,78.1v5M520.8,95.0h5M523.3,92.5v5M545.0,75.3h5M547.5,72.8v5M539.6,68.8h5M542.1,66.3v5M519.7,84.3h5M522.2,81.8v5M527.9,73.2h5M530.4,70.7v5M512.5,84.0h5M515.0,81.5v5M528.4,88.7h5M530.9,86.2v5M510.4,82.7h5M512.9,80.2v5M364.1,199.0h5M366.6,196.5v5M364.1,208.0h5M366.6,205.5v5M364.1,209.5h5M366.6,207.0v5M364.1,216.3h5M366.6,213.8v5M364.1,218.2h5M366.6,215.7v5M364.1,226.7h5M366.6,224.2v5M364.1,238.5h5M366.6,236.0v5M364.1,242.3h5M366.6,239.8v5M364.1,249.5h5M366.6,247.0v5M391.1,225.8h5M393.6,223.3v5M391.1,230.2h5M393.6,227.7v5M405.0,190.1h5M407.5,187.6v5M426.8,182.9h5M429.3,180.4v5M432.0,183.7h5M434.5,181.2v5M426.1,206.2h5M428.6,203.7v5M426.1,208.7h5M428.6,206.2v5M426.1,211.2h5M428.6,208.7v5M426.1,213.9h5M428.6,211.4v5M427.2,219.1h5M429.7,216.6v5M428.0,221.3h5M430.5,218.8v5M471.7,182.9h5M474.2,180.4v5M485.2,189.0h5M487.7,186.5v5M463.0,196.4h5M465.5,193.9v5M468.0,194.8h5M470.5,192.3v5M463.0,199.6h5M465.5,197.1v5M468.0,202.8h5M470.5,200.3v5M458.2,205.2h5M460.7,202.7v5M453.8,210.2h5M456.3,207.7v5M476.1,203.3h5M478.6,200.8v5M481.2,206.0h5M483.7,203.5v5M481.7,211.2h5M484.2,208.7v5M476.5,216.0h5M479.0,213.5v5M458.2,221.0h5M460.7,218.5v5M458.2,223.6h5M460.7,221.1v5M476.5,221.8h5M479.0,219.3v5M457.9,230.2h5M460.4,227.7v5M466.5,228.0h5M469.0,225.5v5M472.2,230.2h5M474.7,227.7v5M472.2,233.7h5M474.7,231.2v5M472.2,235.6h5M474.7,233.1v5M464.2,237.5h5M466.7,235.0v5M467.4,243.6h5M469.9,241.1v5M466.8,255.4h5M469.3,252.9v5M471.2,270.6h5M473.7,268.1v5M508.7,179.7h5M511.2,177.2v5M513.8,176.6h5M516.3,174.1v5M517.6,184.2h5M520.1,181.7v5M521.5,189.9h5M524.0,187.4v5M525.8,188.7h5M528.3,186.2v5M526.2,191.8h5M528.7,189.3v5M521.7,191.3h5M524.2,188.8v5M517.9,197.0h5M520.4,194.5v5M516.6,201.4h5M519.1,198.9v5M516.6,205.2h5M519.1,202.7v5M512.8,209.0h5M515.3,206.5v5M517.3,209.0h5M519.8,206.5v5M522.3,204.0h5M524.8,201.5v5M522.3,207.8h5M524.8,205.3v5M521.7,211.0h5M524.2,208.5v5M521.7,214.1h5M524.2,211.6v5M526.8,207.8h5M529.3,205.3v5M526.2,212.2h5M528.7,209.7v5M530.6,198.9h5M533.1,196.4v5M530.6,202.7h5M533.1,200.2v5M530.6,206.5h5M533.1,204.0v5M530.6,211.0h5M533.1,208.5v5M530.6,214.8h5M533.1,212.3v5M509.0,218.6h5M511.5,216.1v5M512.8,219.8h5M515.3,217.3v5M517.3,220.5h5M519.8,218.0v5M517.9,224.3h5M520.4,221.8v5M508.4,226.2h5M510.9,223.7v5M512.8,226.8h5M515.3,224.3v5M522.3,221.1h5M524.8,218.6v5M525.5,224.3h5M528.0,221.8v5M526.8,228.1h5M529.3,225.6v5M530.6,221.1h5M533.1,218.6v5M530.6,224.9h5M533.1,222.4v5M517.3,228.1h5M519.8,225.6v5M512.3,231.3h5M514.8,228.8v5M516.3,231.3h5M518.8,228.8v5M520.3,231.3h5M522.8,228.8v5M508.4,240.1h5M510.9,237.6v5M512.8,240.1h5M515.3,237.6v5M521.1,237.7h5M523.6,235.2v5M526.6,233.7h5M529.1,231.2v5M526.6,237.7h5M529.1,235.2v5M526.6,241.7h5M529.1,239.2v5M529.8,244.0h5M532.3,241.5v5M529.8,248.8h5M532.3,246.3v5M521.9,252.8h5M524.4,250.3v5M529.8,252.8h5M532.3,250.3v5M529.8,263.9h5M532.3,261.4v5M508.5,226.0h5M511.0,223.5v5M512.5,227.0h5M515.0,224.5v5M517.5,226.5h5M520.0,224.0v5M522.5,227.5h5M525.0,225.0v5M527.5,227.0h5M530.0,224.5v5M566.8,174.0h5M569.3,171.5v5M566.8,176.6h5M569.3,174.1v5M566.8,181.7h5M569.3,179.2v5M557.9,178.5h5M560.4,176.0v5M557.9,186.7h5M560.4,184.2v5M539.1,187.4h5M541.6,184.9v5M543.9,185.2h5M546.4,182.7v5M543.9,192.1h5M546.4,189.6v5M561.7,190.6h5M564.2,188.1v5M561.7,193.1h5M564.2,190.6v5M566.2,191.2h5M568.7,188.7v5M570.6,191.8h5M573.1,189.3v5M543.9,191.9h5M546.4,189.4v5M544.6,204.6h5M547.1,202.1v5M544.6,207.1h5M547.1,204.6v5M544.6,210.3h5M547.1,207.8v5M533.1,200.2h5M535.6,197.7v5M533.1,202.7h5M535.6,200.2v5M535.0,213.5h5M537.5,211.0v5M535.0,216.7h5M537.5,214.2v5M535.0,221.7h5M537.5,219.2v5M535.0,224.9h5M537.5,222.4v5M538.8,226.8h5M541.3,224.3v5M544.6,220.5h5M547.1,218.0v5M549.0,221.7h5M551.5,219.2v5M549.0,224.9h5M551.5,222.4v5M561.7,195.7h5M564.2,193.2v5M566.8,201.4h5M569.3,198.9v5M570.6,195.1h5M573.1,192.6v5M570.6,198.9h5M573.1,196.4v5M534.9,227.4h5M537.4,224.9v5M538.8,227.4h5M541.3,224.9v5M538.8,231.3h5M541.3,228.8v5M535.7,234.5h5M538.2,232.0v5M534.9,240.1h5M537.4,237.6v5M542.8,236.9h5M545.3,234.4v5M539.6,237.7h5M542.1,235.2v5M548.4,226.6h5M550.9,224.1v5M548.4,229.8h5M550.9,227.3v5M548.4,232.1h5M550.9,229.6v5M548.4,240.1h5M550.9,237.6v5M548.4,245.6h5M550.9,243.1v5M557.1,230.6h5M559.6,228.1v5M557.9,240.9h5M560.4,238.4v5M561.9,240.9h5M564.4,238.4v5M566.6,236.9h5M569.1,234.4v5M566.6,240.1h5M569.1,237.6v5M561.9,247.2h5M564.4,244.7v5M561.9,250.4h5M564.4,247.9v5M561.9,259.1h5M564.4,256.6v5M570.6,254.4h5M573.1,251.9v5M603.0,166.4h5M605.5,163.9v5M575.7,177.2h5M578.2,174.7v5M575.7,182.9h5M578.2,180.4v5M584.2,176.6h5M586.7,174.1v5M584.2,183.2h5M586.7,180.7v5M580.1,186.7h5M582.6,184.2v5M588.8,185.5h5M591.3,183.0v5M588.8,188.7h5M591.3,186.2v5M575.7,189.3h5M578.2,186.8v5M575.7,191.8h5M578.2,189.3v5M584.2,192.5h5M586.7,190.0v5M588.4,193.1h5M590.9,190.6v5M607.0,179.8h5M609.5,177.3v5M602.3,184.8h5M604.8,182.3v5M602.3,188.7h5M604.8,186.2v5M606.8,185.5h5M609.3,183.0v5M606.8,189.3h5M609.3,186.8v5M610.6,189.9h5M613.1,187.4v5M610.6,193.1h5M613.1,190.6v5M575.7,231.3h5M578.2,228.8v5M575.7,236.1h5M578.2,233.6v5M579.6,238.5h5M582.1,236.0v5M579.6,244.4h5M582.1,241.9v5M584.4,240.9h5M586.9,238.4v5M588.4,232.9h5M590.9,230.4v5M588.4,236.9h5M590.9,234.4v5M588.4,240.9h5M590.9,238.4v5M588.4,244.8h5M590.9,242.3v5M588.4,249.6h5M590.9,247.1v5M593.1,232.9h5M595.6,230.4v5M593.1,236.9h5M595.6,234.4v5M597.9,236.1h5M600.4,233.6v5M597.9,240.1h5M600.4,237.6v5M605.8,231.3h5M608.3,228.8v5M605.8,233.7h5M608.3,231.2v5M606.6,241.7h5M609.1,239.2v5M606.6,245.6h5M609.1,243.1v5M610.6,236.1h5M613.1,233.6v5M611.4,253.6h5M613.9,251.1v5M605.8,261.5h5M608.3,259.0v5M573.3,254.4h5M575.8,251.9v5M620.3,169.6h5M622.8,167.1v5M625.1,176.3h5M627.6,173.8v5M615.8,177.6h5M618.3,175.1v5M615.8,181.7h5M618.3,179.2v5M615.8,186.7h5M618.3,184.2v5M607.3,180.4h5M609.8,177.9v5M607.3,185.5h5M609.8,183.0v5M607.3,189.0h5M609.8,186.5v5M625.1,182.3h5M627.6,179.8v5M625.1,185.5h5M627.6,183.0v5M625.1,188.7h5M627.6,186.2v5M625.1,191.2h5M627.6,188.7v5M628.5,184.8h5M631.0,182.3v5M628.5,189.3h5M631.0,186.8v5M612.0,189.9h5M614.5,187.4v5M619.0,193.1h5M621.5,190.6v5M621.5,193.1h5M624.0,190.6v5M606.3,232.6h5M608.8,230.1v5M611.1,237.4h5M613.6,234.9v5M606.7,242.1h5M609.2,239.6v5M606.7,245.0h5M609.2,242.5v5M615.8,247.5h5M618.3,245.0v5M611.6,252.6h5M614.1,250.1v5M615.8,254.5h5M618.3,252.0v5M620.6,239.3h5M623.1,236.8v5M625.4,228.8h5M627.9,226.3v5M625.4,233.6h5M627.9,231.1v5M625.4,238.3h5M627.9,235.8v5M625.4,244.0h5M627.9,241.5v5M625.4,248.8h5M627.9,246.3v5M625.4,253.6h5M627.9,251.1v5M625.4,255.5h5M627.9,253.0v5M605.9,260.8h5M608.4,258.3v5M615.8,264.6h5M618.3,262.1v5M625.4,267.9h5M627.9,265.4v5M626.7,212.0h5M629.2,209.5v5M608.0,226.9h5M610.5,224.4v5M613.9,227.0h5M616.4,224.5v5M573.3,221.4h5M575.8,218.9v5M582.8,212.8h5M585.3,210.3v5M560.4,228.5h5M562.9,226.0v5M573.8,209.1h5M576.3,206.6v5M573.7,214.7h5M576.2,212.2v5M619.9,216.1h5M622.4,213.6v5M593.5,234.3h5M596.0,231.8v5M617.6,222.7h5M620.1,220.2v5M585.3,213.0h5M587.8,210.5v5M569.0,210.7h5M571.5,208.2v5M576.7,219.7h5M579.2,217.2v5M612.9,218.8h5M615.4,216.3v5M615.6,214.4h5M618.1,211.9v5M602.0,215.9h5M604.5,213.4v5M554.9,223.0h5M557.4,220.5v5M556.4,220.1h5M558.9,217.6v5M582.3,224.3h5M584.8,221.8v5M598.3,224.9h5M600.8,222.4v5M592.9,221.6h5M595.4,219.1v5M573.1,210.8h5M575.6,208.3v5M617.7,230.7h5M620.2,228.2v5M628.4,209.1h5M630.9,206.6v5M618.6,212.7h5M621.1,210.2v5M615.2,230.4h5M617.7,227.9v5M593.3,211.9h5M595.8,209.4v5M622.4,215.3h5M624.9,212.8v5M603.8,213.6h5M606.3,211.1v5M613.6,217.8h5M616.1,215.3v5M594.9,226.5h5M597.4,224.0v5M601.9,233.1h5M604.4,230.6v5M572.1,210.5h5M574.6,208.0v5M616.4,213.5h5M618.9,211.0v5M572.6,218.6h5M575.1,216.1v5M569.5,217.1h5M572.0,214.6v5M573.5,225.8h5M576.0,223.3v5M608.9,225.7h5M611.4,223.2v5M614.9,212.9h5M617.4,210.4v5M582.1,215.0h5M584.6,212.5v5M569.5,220.2h5M572.0,217.7v5M619.0,221.2h5M621.5,218.7v5M613.5,219.9h5M616.0,217.4v5M601.3,218.3h5M603.8,215.8v5M598.3,225.9h5M600.8,223.4v5M614.3,218.3h5M616.8,215.8v5M570.9,218.3h5M573.4,215.8v5M618.1,211.6h5M620.6,209.1v5M597.6,228.4h5M600.1,225.9v5M614.1,219.7h5M616.6,217.2v5M608.6,224.8h5M611.1,222.3v5M627.4,222.9h5M629.9,220.4v5M573.7,221.0h5M576.2,218.5v5M599.1,215.6h5M601.6,213.1v5M603.1,225.4h5M605.6,222.9v5M574.1,222.3h5M576.6,219.8v5M593.7,236.9h5M596.2,234.4v5M618.9,221.4h5M621.4,218.9v5M627.0,226.6h5M629.5,224.1v5M555.2,230.1h5M557.7,227.6v5M597.0,219.8h5M599.5,217.3v5M608.4,225.1h5M610.9,222.6v5M618.2,217.0h5M620.7,214.5v5M605.9,220.9h5M608.4,218.4v5M585.2,223.9h5M587.7,221.4v5M556.9,216.3h5M559.4,213.8v5M573.2,233.0h5M575.7,230.5v5M583.0,218.9h5M585.5,216.4v5M588.5,221.3h5M591.0,218.8v5M568.7,225.7h5M571.2,223.2v5M586.0,224.1h5M588.5,221.6v5M618.3,215.4h5M620.8,212.9v5M565.4,222.1h5M567.9,219.6v5M617.2,240.7h5M619.7,238.2v5M615.5,217.3h5M618.0,214.8v5M568.5,224.7h5M571.0,222.2v5M568.2,218.9h5M570.7,216.4v5M556.0,216.1h5M558.5,213.6v5M560.3,219.2h5M562.8,216.7v5M587.2,219.3h5M589.7,216.8v5M577.7,229.2h5M580.2,226.7v5M594.4,213.8h5M596.9,211.3v5M593.5,222.8h5M596.0,220.3v5M584.5,227.0h5M587.0,224.5v5M585.2,216.6h5M587.7,214.1v5M561.1,227.4h5M563.6,224.9v5M573.8,220.3h5M576.3,217.8v5M614.4,214.5h5M616.9,212.0v5M560.5,217.4h5M563.0,214.9v5M580.7,225.1h5M583.2,222.6v5M573.1,217.1h5M575.6,214.6v5M602.0,226.7h5M604.5,224.2v5M559.5,222.1h5M562.0,219.6v5M559.6,226.8h5M562.1,224.3v5M595.0,233.4h5M597.5,230.9v5M557.0,222.0h5M559.5,219.5v5M618.4,235.4h5M620.9,232.9v5M568.4,233.6h5M570.9,231.1v5M592.8,213.6h5M595.3,211.1v5M593.1,232.5h5M595.6,230.0v5M613.6,221.8h5M616.1,219.3v5M614.4,225.3h5M616.9,222.8v5M627.3,211.0h5M629.8,208.5v5M599.0,221.8h5M601.5,219.3v5M594.7,227.6h5M597.2,225.1v5M606.6,222.2h5M609.1,219.7v5M573.3,217.9h5M575.8,215.4v5M613.3,227.6h5M615.8,225.1v5M614.2,212.9h5M616.7,210.4v5M597.1,229.5h5M599.6,227.0v5M625.1,227.3h5M627.6,224.8v5M627.1,227.3h5M629.6,224.8v5M598.8,228.6h5M601.3,226.1v5M584.5,217.0h5M587.0,214.5v5M578.1,213.7h5M580.6,211.2v5M560.6,215.3h5M563.1,212.8v5M601.3,224.6h5M603.8,222.1v5M613.6,222.2h5M616.1,219.7v5M605.7,215.7h5M608.2,213.2v5M610.1,228.4h5M612.6,225.9v5M586.9,213.5h5M589.4,211.0v5M614.8,219.2h5M617.3,216.7v5M576.1,210.6h5M578.6,208.1v5M581.3,218.7h5M583.8,216.2v5M613.8,214.0h5M616.3,211.5v5M566.7,220.8h5M569.2,218.3v5M602.0,220.0h5M604.5,217.5v5M582.1,214.2h5M584.6,211.7v5M562.5,213.1h5M565.0,210.6v5M587.4,221.8h5M589.9,219.3v5M569.5,217.6h5M572.0,215.1v5M597.4,208.9h5M599.9,206.4v5M626.1,236.0h5M628.6,233.5v5M601.3,221.2h5M603.8,218.7v5M585.4,217.0h5M587.9,214.5v5M582.7,219.3h5M585.2,216.8v5M577.3,214.5h5M579.8,212.0v5M578.4,235.5h5M580.9,233.0v5M573.0,219.5h5M575.5,217.0v5M613.9,220.1h5M616.4,217.6v5M573.5,211.1h5M576.0,208.6v5M599.2,224.3h5M601.7,221.8v5M620.7,223.4h5M623.2,220.9v5M622.0,222.2h5M624.5,219.7v5M627.1,231.5h5M629.6,229.0v5M597.2,218.3h5M599.7,215.8v5M589.5,214.4h5M592.0,211.9v5M555.9,228.4h5M558.4,225.9v5M609.1,226.7h5M611.6,224.2v5M607.7,232.3h5M610.2,229.8v5M573.3,217.5h5M575.8,215.0v5M585.8,230.8h5M588.3,228.3v5M569.5,226.5h5M572.0,224.0v5M613.5,217.9h5M616.0,215.4v5M597.1,211.4h5M599.6,208.9v5M573.9,216.7h5M576.4,214.2v5M582.0,226.4h5M584.5,223.9v5M613.3,232.7h5M615.8,230.2v5M572.2,227.2h5M574.7,224.7v5M619.3,214.6h5M621.8,212.1v5M577.8,212.5h5M580.3,210.0v5M578.4,215.3h5M580.9,212.8v5M557.4,231.1h5M559.9,228.6v5M568.7,220.1h5M571.2,217.6v5M626.5,227.5h5M629.0,225.0v5M594.1,216.4h5M596.6,213.9v5M564.3,234.6h5M566.8,232.1v5M585.6,216.8h5M588.1,214.3v5M572.9,233.4h5M575.4,230.9v5M561.9,229.5h5M564.4,227.0v5M556.1,227.0h5M558.6,224.5v5M598.1,230.9h5M600.6,228.4v5M568.1,218.6h5M570.6,216.1v5M569.5,212.2h5M572.0,209.7v5M577.8,219.7h5M580.3,217.2v5M573.3,221.9h5M575.8,219.4v5M626.7,225.2h5M629.2,222.7v5M593.9,217.9h5M596.4,215.4v5M598.0,224.8h5M600.5,222.3v5M568.1,222.3h5M570.6,219.8v5M597.1,233.8h5M599.6,231.3v5M560.1,227.1h5M562.6,224.6v5M617.9,231.2h5M620.4,228.7v5M557.1,214.8h5M559.6,212.3v5M585.5,208.0h5M588.0,205.5v5M585.5,219.9h5M588.0,217.4v5M593.0,211.7h5M595.5,209.2v5M574.5,229.4h5M577.0,226.9v5M574.6,226.0h5M577.1,223.5v5M570.5,229.4h5M573.0,226.9v5M572.8,225.6h5M575.3,223.1v5M577.9,218.2h5M580.4,215.7v5M593.8,221.9h5M596.3,219.4v5M562.2,227.8h5M564.7,225.3v5M578.4,217.7h5M580.9,215.2v5M597.6,223.2h5M600.1,220.7v5M581.3,231.7h5M583.8,229.2v5M557.4,221.6h5M559.9,219.1v5M617.2,224.4h5M619.7,221.9v5M568.9,233.5h5M571.4,231.0v5M605.3,227.7h5M607.8,225.2v5M598.5,219.4h5M601.0,216.9v5M616.8,232.6h5M619.3,230.1v5M593.6,210.6h5M596.1,208.1v5M577.2,221.2h5M579.7,218.7v5M569.8,226.1h5M572.3,223.6v5M601.9,223.5h5M604.4,221.0v5M577.7,217.8h5M580.2,215.3v5M573.4,222.3h5M575.9,219.8v5M560.7,215.1h5M563.2,212.6v5M627.0,223.8h5M629.5,221.3v5M599.5,232.5h5M602.0,230.0v5M614.4,226.8h5M616.9,224.3v5M618.3,235.2h5M620.8,232.7v5M577.2,219.7h5M579.7,217.2v5M601.8,229.6h5M604.3,227.1v5M570.5,233.2h5M573.0,230.7v5M561.4,218.1h5M563.9,215.6v5M598.1,216.7h5M600.6,214.2v5M567.3,227.9h5M569.8,225.4v5M616.9,206.7h5M619.4,204.2v5M626.8,221.2h5M629.3,218.7v5M619.3,223.8h5M621.8,221.3v5M568.5,230.1h5M571.0,227.6v5M590.3,229.9h5M592.8,227.4v5M605.2,236.5h5M607.7,234.0v5M601.7,229.4h5M604.2,226.9v5M585.3,226.5h5M587.8,224.0v5M576.1,208.8h5M578.6,206.3v5M618.2,222.0h5M620.7,219.5v5M613.8,220.8h5M616.3,218.3v5M574.0,226.9h5M576.5,224.4v5M569.0,212.8h5M571.5,210.3v5M597.7,228.6h5M600.2,226.1v5M590.8,203.6h5M593.3,201.1v5M610.4,217.2h5M612.9,214.7v5M584.3,217.9h5M586.8,215.4v5M569.7,215.5h5M572.2,213.0v5M627.2,225.9h5M629.7,223.4v5M568.3,221.1h5M570.8,218.6v5M613.7,231.6h5M616.2,229.1v5M576.8,222.6h5M579.3,220.1v5M573.6,222.6h5M576.1,220.1v5M595.1,232.2h5M597.6,229.7v5M574.7,233.2h5M577.2,230.7v5M556.5,219.2h5M559.0,216.7v5M614.8,209.3h5M617.3,206.8v5M622.1,224.9h5M624.6,222.4v5M581.7,230.6h5M584.2,228.1v5M559.4,229.3h5M561.9,226.8v5M622.9,235.2h5M625.4,232.7v5M586.0,221.9h5M588.5,219.4v5M605.0,229.8h5M607.5,227.3v5M616.7,214.9h5M619.2,212.4v5M574.0,221.3h5M576.5,218.8v5M611.7,212.2h5M614.2,209.7v5M593.9,225.8h5M596.4,223.3v5M581.8,221.4h5M584.3,218.9v5M628.1,219.1h5M630.6,216.6v5M564.4,220.1h5M566.9,217.6v5M559.7,218.6h5M562.2,216.1v5M555.0,220.8h5M557.5,218.3v5M615.8,220.9h5M618.3,218.4v5M612.7,223.4h5M615.2,220.9v5M605.4,224.4h5M607.9,221.9v5M615.3,224.8h5M617.8,222.3v5M581.9,219.4h5M584.4,216.9v5M573.9,212.8h5M576.4,210.3v5M573.7,214.9h5M576.2,212.4v5M560.1,209.6h5M562.6,207.1v5M618.8,218.2h5M621.3,215.7v5M610.0,222.1h5M612.5,219.6v5M618.6,219.5h5M621.1,217.0v5M614.1,210.7h5M616.6,208.2v5M599.5,233.8h5M602.0,231.3v5M581.1,224.9h5M583.6,222.4v5M601.6,217.4h5M604.1,214.9v5M614.8,202.8h5M617.3,200.3v5M606.6,215.3h5M609.1,212.8v5M611.2,234.4h5M613.7,231.9v5M578.3,234.8h5M580.8,232.3v5M574.1,218.6h5M576.6,216.1v5M628.5,233.8h5M631.0,231.3v5M598.6,231.3h5M601.1,228.8v5M555.8,227.4h5M558.3,224.9v5M614.6,217.1h5M617.1,214.6v5M593.1,223.3h5M595.6,220.8v5M606.6,214.5h5M609.1,212.0v5M596.8,211.6h5M599.3,209.1v5M617.9,226.0h5M620.4,223.5v5M609.1,214.5h5M611.6,212.0v5M594.7,217.8h5M597.2,215.3v5M567.6,222.6h5M570.1,220.1v5M569.3,217.0h5M571.8,214.5v5M610.3,218.6h5M612.8,216.1v5M586.6,218.7h5M589.1,216.2v5M607.6,242.0h5M610.1,239.5v5M573.4,227.5h5M575.9,225.0v5M570.1,220.1h5M572.6,217.6v5M573.8,211.2h5M576.3,208.7v5M622.9,229.2h5M625.4,226.7v5M602.0,217.1h5M604.5,214.6v5M563.7,234.8h5M566.2,232.3v5M601.6,221.7h5M604.1,219.2v5M573.8,225.2h5M576.3,222.7v5M597.6,213.9h5M600.1,211.4v5M616.9,204.9h5M619.4,202.4v5M574.5,232.8h5M577.0,230.3v5M564.9,225.0h5M567.4,222.5v5M626.7,212.0h5M629.2,209.5v5M615.4,233.4h5M617.9,230.9v5M598.2,209.2h5M600.7,206.7v5M626.3,212.5h5M628.8,210.0v5M582.4,222.6h5M584.9,220.1v5M601.3,212.6h5M603.8,210.1v5M581.7,228.7h5M584.2,226.2v5M585.0,213.8h5M587.5,211.3v5M597.5,229.2h5M600.0,226.7v5M573.3,223.0h5M575.8,220.5v5M558.7,205.0h5M561.2,202.5v5M557.7,221.5h5M560.2,219.0v5M553.3,229.9h5M555.8,227.4v5M554.0,209.3h5M556.5,206.8v5M558.8,217.8h5M561.3,215.3v5M555.6,227.9h5M558.1,225.4v5M558.4,220.7h5M560.9,218.2v5M557.6,226.9h5M560.1,224.4v5M555.5,212.0h5M558.0,209.5v5M554.9,216.1h5M557.4,213.6v5M559.1,209.6h5M561.6,207.1v5M558.8,222.4h5M561.3,219.9v5M559.5,215.7h5M562.0,213.2v5M559.8,212.2h5M562.3,209.7v5M553.9,227.3h5M556.4,224.8v5M559.7,226.1h5M562.2,223.6v5M558.1,213.6h5M560.6,211.1v5M557.8,219.9h5M560.3,217.4v5M559.8,206.5h5M562.3,204.0v5M558.2,207.1h5M560.7,204.6v5M558.4,230.2h5M560.9,227.7v5M560.4,210.5h5M562.9,208.0v5M554.8,220.7h5M557.3,218.2v5M558.4,217.9h5M560.9,215.4v5M554.7,220.3h5M557.2,217.8v5M584.0,237.9h5M586.5,235.4v5M609.5,210.7h5M612.0,208.2v5M626.1,192.9h5M628.6,190.4v5M615.0,186.8h5M617.5,184.3v5M626.0,211.4h5M628.5,208.9v5M611.0,210.6h5M613.5,208.1v5M578.1,214.4h5M580.6,211.9v5M593.3,185.8h5M595.8,183.3v5M605.9,203.9h5M608.4,201.4v5M554.9,208.6h5M557.4,206.1v5M618.2,189.2h5M620.7,186.7v5M604.4,197.7h5M606.9,195.2v5M570.2,205.3h5M572.7,202.8v5M576.0,206.4h5M578.5,203.9v5M594.1,205.6h5M596.6,203.1v5M622.6,191.3h5M625.1,188.8v5M622.9,237.9h5M625.4,235.4v5M570.3,221.9h5M572.8,219.4v5M594.2,188.2h5M596.7,185.7v5M605.0,218.6h5M607.5,216.1v5M557.8,200.3h5M560.3,197.8v5M594.9,186.3h5M597.4,183.8v5M556.3,209.4h5M558.8,206.9v5M605.5,204.6h5M608.0,202.1v5M593.0,207.4h5M595.5,204.9v5M572.4,230.7h5M574.9,228.2v5M626.2,209.8h5M628.7,207.3v5M577.9,215.0h5M580.4,212.5v5M572.6,233.0h5M575.1,230.5v5M603.1,196.0h5M605.6,193.5v5M578.8,231.2h5M581.3,228.7v5M556.8,201.5h5M559.3,199.0v5M614.1,190.9h5M616.6,188.4v5M606.4,237.3h5M608.9,234.8v5M625.6,223.2h5M628.1,220.7v5M582.1,185.8h5M584.6,183.3v5M577.9,202.3h5M580.4,199.8v5M627.5,190.8h5M630.0,188.3v5M606.0,224.3h5M608.5,221.8v5M618.0,212.0h5M620.5,209.5v5M564.1,189.4h5M566.6,186.9v5M590.4,201.9h5M592.9,199.4v5M569.5,192.9h5M572.0,190.4v5M594.5,195.1h5M597.0,192.6v5M607.1,193.0h5M609.6,190.5v5M626.2,192.9h5M628.7,190.4v5M588.1,178.5h5M590.6,176.0v5M594.0,204.8h5M596.5,202.3v5M585.9,193.6h5M588.4,191.1v5M627.2,203.5h5M629.7,201.0v5M604.6,208.8h5M607.1,206.3v5M581.5,217.3h5M584.0,214.8v5M618.0,235.2h5M620.5,232.7v5M584.8,186.2h5M587.3,183.7v5M556.4,196.5h5M558.9,194.0v5M610.7,225.7h5M613.2,223.2v5M626.5,227.1h5M629.0,224.6v5M609.3,187.3h5M611.8,184.8v5M593.4,215.0h5M595.9,212.5v5M626.6,193.9h5M629.1,191.4v5M625.6,215.4h5M628.1,212.9v5M557.0,201.3h5M559.5,198.8v5M618.2,218.8h5M620.7,216.3v5M594.2,188.1h5M596.7,185.6v5M585.3,225.8h5M587.8,223.3v5M618.8,218.0h5M621.3,215.5v5M596.8,195.2h5M599.3,192.7v5M595.5,215.6h5M598.0,213.1v5M585.6,210.1h5M588.1,207.6v5M593.5,235.6h5M596.0,233.1v5M622.4,228.3h5M624.9,225.8v5M556.8,216.7h5M559.3,214.2v5M560.9,218.3h5M563.4,215.8v5M588.1,217.7h5M590.6,215.2v5M559.1,201.8h5M561.6,199.3v5M572.2,243.1h5M574.7,240.6v5M605.3,222.4h5M607.8,219.9v5M609.9,209.1h5M612.4,206.6v5M613.6,215.2h5M616.1,212.7v5M610.5,197.6h5M613.0,195.1v5M592.5,187.8h5M595.0,185.3v5M563.7,205.5h5M566.2,203.0v5M627.1,223.4h5M629.6,220.9v5M582.0,226.4h5M584.5,223.9v5M585.5,223.4h5M588.0,220.9v5M590.3,228.5h5M592.8,226.0v5M584.9,231.9h5M587.4,229.4v5M561.2,225.5h5M563.7,223.0v5M556.7,211.6h5M559.2,209.1v5M626.9,224.7h5M629.4,222.2v5M585.3,211.0h5M587.8,208.5v5M622.4,197.6h5M624.9,195.1v5M611.2,187.1h5M613.7,184.6v5M583.7,193.8h5M586.2,191.3v5M585.3,214.0h5M587.8,211.5v5M625.9,198.5h5M628.4,196.0v5M581.4,225.5h5M583.9,223.0v5M597.3,221.5h5M599.8,219.0v5M625.6,221.3h5M628.1,218.8v5M626.8,232.1h5M629.3,229.6v5M619.6,212.8h5M622.1,210.3v5M589.7,204.4h5M592.2,201.9v5M556.1,224.2h5M558.6,221.7v5M556.7,215.5h5M559.2,213.0v5M593.3,223.1h5M595.8,220.6v5M618.1,220.6h5M620.6,218.1v5M557.3,227.5h5M559.8,225.0v5M576.7,200.7h5M579.2,198.2v5M626.9,221.0h5M629.4,218.5v5M573.2,189.2h5M575.7,186.7v5M557.9,204.8h5M560.4,202.3v5M593.9,229.4h5M596.4,226.9v5M588.9,224.9h5M591.4,222.4v5M585.2,224.6h5M587.7,222.1v5M606.3,209.0h5M608.8,206.5v5M593.3,227.9h5M595.8,225.4v5M605.8,223.8h5M608.3,221.3v5M618.3,204.2h5M620.8,201.7v5M564.0,223.1h5M566.5,220.6v5M565.6,217.0h5M568.1,214.5v5M594.0,219.0h5M596.5,216.5v5M557.1,218.2h5M559.6,215.7v5M576.9,183.2h5M579.4,180.7v5M616.6,212.1h5M619.1,209.6v5M556.4,196.6h5M558.9,194.1v5M606.2,236.9h5M608.7,234.4v5M568.8,197.3h5M571.3,194.8v5M594.9,189.2h5M597.4,186.7v5M587.0,188.4h5M589.5,185.9v5M626.0,200.1h5M628.5,197.6v5M589.3,239.4h5M591.8,236.9v5M598.2,222.5h5M600.7,220.0v5M556.5,197.9h5M559.0,195.4v5M623.4,197.9h5M625.9,195.4v5M594.1,209.2h5M596.6,206.7v5M613.2,226.7h5M615.7,224.2v5M588.6,226.8h5M591.1,224.3v5M626.1,225.1h5M628.6,222.6v5M604.7,201.9h5M607.2,199.4v5M626.8,194.6h5M629.3,192.1v5M590.4,205.2h5M592.9,202.7v5M622.5,214.1h5M625.0,211.6v5M614.1,190.9h5M616.6,188.4v5M621.2,210.5h5M623.7,208.0v5M594.7,211.1h5M597.2,208.6v5M555.8,212.7h5M558.3,210.2v5M617.6,222.7h5M620.1,220.2v5M610.8,213.1h5M613.3,210.6v5M626.7,207.3h5M629.2,204.8v5M602.6,222.7h5M605.1,220.2v5M585.7,204.1h5M588.2,201.6v5M569.0,237.3h5M571.5,234.8v5M622.1,243.2h5M624.6,240.7v5M593.7,190.4h5M596.2,187.9v5M584.5,232.4h5M587.0,229.9v5M556.8,216.4h5M559.3,213.9v5M622.9,212.6h5M625.4,210.1v5M593.6,211.8h5M596.1,209.3v5M585.3,199.7h5M587.8,197.2v5M625.6,175.9h5M628.1,173.4v5M586.1,202.2h5M588.6,199.7v5M556.1,223.1h5M558.6,220.6v5M557.6,233.2h5M560.1,230.7v5M625.7,202.0h5M628.2,199.5v5M601.6,212.5h5M604.1,210.0v5M593.0,195.0h5M595.5,192.5v5M581.2,197.9h5M583.7,195.4v5M625.8,226.4h5M628.3,223.9v5M576.4,213.5h5M578.9,211.0v5M568.3,213.2h5M570.8,210.7v5M626.1,215.6h5M628.6,213.1v5M589.6,208.7h5M592.1,206.2v5M556.6,237.7h5M559.1,235.2v5M569.3,190.0h5M571.8,187.5v5M626.0,227.1h5M628.5,224.6v5M606.3,232.4h5M608.8,229.9v5M601.6,226.4h5M604.1,223.9v5M572.2,222.1h5M574.7,219.6v5M578.0,218.3h5M580.5,215.8v5M559.5,217.9h5M562.0,215.4v5M626.2,202.3h5M628.7,199.8v5M590.8,197.7h5M593.3,195.2v5M557.8,200.4h5M560.3,197.9v5M617.6,222.3h5M620.1,219.8v5M574.1,215.7h5M576.6,213.2v5M619.1,192.8h5M621.6,190.3v5M622.6,203.0h5M625.1,200.5v5M592.1,202.8h5M594.6,200.3v5M584.7,197.1h5M587.2,194.6v5M588.6,197.1h5M591.1,194.6v5M514.4,218.0h5M516.9,215.5v5M541.0,208.3h5M543.5,205.8v5M518.3,211.2h5M520.8,208.7v5M529.0,212.0h5M531.5,209.5v5M541.3,208.2h5M543.8,205.7v5M545.8,229.7h5M548.3,227.2v5M538.3,226.5h5M540.8,224.0v5M529.6,197.6h5M532.1,195.1v5M530.5,216.7h5M533.0,214.2v5M517.5,215.4h5M520.0,212.9v5M540.8,196.3h5M543.3,193.8v5M517.1,219.3h5M519.6,216.8v5M518.0,211.2h5M520.5,208.7v5M528.4,211.0h5M530.9,208.5v5M545.3,214.4h5M547.8,211.9v5M529.6,198.8h5M532.1,196.3v5M537.4,224.2h5M539.9,221.7v5M513.9,221.0h5M516.4,218.5v5M537.8,201.8h5M540.3,199.3v5M542.6,215.7h5M545.1,213.2v5M509.0,210.6h5M511.5,208.1v5M517.8,218.0h5M520.3,215.5v5M517.0,231.1h5M519.5,228.6v5M541.6,202.9h5M544.1,200.4v5M509.7,212.2h5M512.2,209.7v5M523.6,219.6h5M526.1,217.1v5M518.3,221.8h5M520.8,219.3v5M508.8,225.1h5M511.3,222.6v5M546.1,217.9h5M548.6,215.4v5M526.2,230.9h5M528.7,228.4v5M542.0,213.5h5M544.5,211.0v5M539.4,206.2h5M541.9,203.7v5M507.5,219.7h5M510.0,217.2v5M529.6,218.7h5M532.1,216.2v5M545.5,204.2h5M548.0,201.7v5M530.4,214.3h5M532.9,211.8v5M509.3,206.2h5M511.8,203.7v5M533.5,219.3h5M536.0,216.8v5M513.5,218.8h5M516.0,216.3v5M515.9,214.8h5M518.4,212.3v5" fill="none" stroke="#1a1a1a" stroke-width="1.25"/>
<text transform="translate(170.9,9.0) scale(1.06,1)" text-anchor="middle" style="font-family:'Liberation Sans',sans-serif;font-size:11.5px;font-weight:bold" fill="#111">Carme residuals</text>
<text transform="translate(491.6,9.6) scale(1.06,1)" text-anchor="middle" style="font-family:'Liberation Sans',sans-serif;font-size:11.5px;font-weight:bold" fill="#111">Ananke residuals</text>
<g transform="translate(37.6,299.5) scale(1.07,1)"><text text-anchor="middle" style="font-family:'Liberation Sans',sans-serif;font-size:12.4px" fill="#111"> 935</text><path d="M-10.61,0.00L-9.43,0.00L-9.43,-8.72L-10.38,-8.72C-10.63,-7.75 -11.25,-7.25 -12.58,-7.13L-12.58,-6.26L-10.61,-6.26Z" fill="#111"/></g>
<g transform="translate(104.0,299.5) scale(1.07,1)"><text text-anchor="middle" style="font-family:'Liberation Sans',sans-serif;font-size:12.4px" fill="#111"> 955</text><path d="M-10.61,0.00L-9.43,0.00L-9.43,-8.72L-10.38,-8.72C-10.63,-7.75 -11.25,-7.25 -12.58,-7.13L-12.58,-6.26L-10.61,-6.26Z" fill="#111"/></g>
<g transform="translate(170.29999999999998,299.5) scale(1.07,1)"><text text-anchor="middle" style="font-family:'Liberation Sans',sans-serif;font-size:12.4px" fill="#111"> 975</text><path d="M-10.61,0.00L-9.43,0.00L-9.43,-8.72L-10.38,-8.72C-10.63,-7.75 -11.25,-7.25 -12.58,-7.13L-12.58,-6.26L-10.61,-6.26Z" fill="#111"/></g>
<g transform="translate(236.7,299.5) scale(1.07,1)"><text text-anchor="middle" style="font-family:'Liberation Sans',sans-serif;font-size:12.4px" fill="#111"> 995</text><path d="M-10.61,0.00L-9.43,0.00L-9.43,-8.72L-10.38,-8.72C-10.63,-7.75 -11.25,-7.25 -12.58,-7.13L-12.58,-6.26L-10.61,-6.26Z" fill="#111"/></g>
<g transform="translate(303.0,299.5) scale(1.07,1)"><text text-anchor="middle" style="font-family:'Liberation Sans',sans-serif;font-size:12.4px" fill="#111">20 5</text><path d="M3.19,0.00L4.36,0.00L4.36,-8.72L3.41,-8.72C3.16,-7.75 2.54,-7.25 1.22,-7.13L1.22,-6.26L3.19,-6.26Z" fill="#111"/></g>
<g transform="translate(360.0,299.5) scale(1.07,1)"><text text-anchor="middle" style="font-family:'Liberation Sans',sans-serif;font-size:12.4px" fill="#111"> 950</text><path d="M-10.61,0.00L-9.43,0.00L-9.43,-8.72L-10.38,-8.72C-10.63,-7.75 -11.25,-7.25 -12.58,-7.13L-12.58,-6.26L-10.61,-6.26Z" fill="#111"/></g>
<g transform="translate(442.5,299.5) scale(1.07,1)"><text text-anchor="middle" style="font-family:'Liberation Sans',sans-serif;font-size:12.4px" fill="#111"> 970</text><path d="M-10.61,0.00L-9.43,0.00L-9.43,-8.72L-10.38,-8.72C-10.63,-7.75 -11.25,-7.25 -12.58,-7.13L-12.58,-6.26L-10.61,-6.26Z" fill="#111"/></g>
<g transform="translate(525.0,299.5) scale(1.07,1)"><text text-anchor="middle" style="font-family:'Liberation Sans',sans-serif;font-size:12.4px" fill="#111"> 990</text><path d="M-10.61,0.00L-9.43,0.00L-9.43,-8.72L-10.38,-8.72C-10.63,-7.75 -11.25,-7.25 -12.58,-7.13L-12.58,-6.26L-10.61,-6.26Z" fill="#111"/></g>
<g transform="translate(607.8,299.5) scale(1.07,1)"><text text-anchor="middle" style="font-family:'Liberation Sans',sans-serif;font-size:12.4px" fill="#111">20 0</text><path d="M3.19,0.00L4.36,0.00L4.36,-8.72L3.41,-8.72C3.16,-7.75 2.54,-7.25 1.22,-7.13L1.22,-6.26L3.19,-6.26Z" fill="#111"/></g>
<text transform="translate(166.0,313.8) scale(1.04,1)" text-anchor="middle" style="font-family:'Liberation Sans',sans-serif;font-size:13.2px;font-weight:normal" fill="#111">Date</text>
<text transform="translate(491.1,313.8) scale(1.04,1)" text-anchor="middle" style="font-family:'Liberation Sans',sans-serif;font-size:13.2px;font-weight:normal" fill="#111">Date</text>
<g transform="translate(29.099999999999998,133.3) rotate(-90) scale(1.06,1)"><text text-anchor="middle" style="font-family:'Liberation Sans',sans-serif;font-size:12.4px" fill="#111">−3</text></g>
<g transform="translate(29.099999999999998,114.8) rotate(-90) scale(1.06,1)"><text text-anchor="middle" style="font-family:'Liberation Sans',sans-serif;font-size:12.4px" fill="#111">−2</text></g>
<g transform="translate(29.099999999999998,96.3) rotate(-90) scale(1.06,1)"><text text-anchor="middle" style="font-family:'Liberation Sans',sans-serif;font-size:12.4px" fill="#111">− </text><path d="M3.36,0.00L4.54,0.00L4.54,-8.72L3.58,-8.72C3.33,-7.75 2.71,-7.25 1.39,-7.13L1.39,-6.26L3.36,-6.26Z" fill="#111"/></g>
<g transform="translate(29.099999999999998,77.8) rotate(-90) scale(1.06,1)"><text text-anchor="middle" style="font-family:'Liberation Sans',sans-serif;font-size:12.4px" fill="#111">0</text></g>
<g transform="translate(29.099999999999998,59.3) rotate(-90) scale(1.06,1)"><text text-anchor="middle" style="font-family:'Liberation Sans',sans-serif;font-size:12.4px" fill="#111"> </text><path d="M-0.26,0.00L0.92,0.00L0.92,-8.72L-0.04,-8.72C-0.29,-7.75 -0.91,-7.25 -2.23,-7.13L-2.23,-6.26L-0.26,-6.26Z" fill="#111"/></g>
<g transform="translate(29.099999999999998,40.8) rotate(-90) scale(1.06,1)"><text text-anchor="middle" style="font-family:'Liberation Sans',sans-serif;font-size:12.4px" fill="#111">2</text></g>
<g transform="translate(29.099999999999998,22.299999999999997) rotate(-90) scale(1.06,1)"><text text-anchor="middle" style="font-family:'Liberation Sans',sans-serif;font-size:12.4px" fill="#111">3</text></g>
<text transform="translate(11.5,76.2) rotate(-90)" text-anchor="middle" style="font-family:'Liberation Sans',sans-serif;font-size:18.5px;font-weight:normal" fill="#111">σ</text>
<text transform="translate(44.8,26.799999999999997) scale(1.03,1)" text-anchor="start" style="font-family:'Liberation Sans',sans-serif;font-size:12.0px;font-weight:normal" fill="#111">RA</text>
<g transform="translate(29.099999999999998,274.825) rotate(-90) scale(1.06,1)"><text text-anchor="middle" style="font-family:'Liberation Sans',sans-serif;font-size:12.4px" fill="#111">−3</text></g>
<g transform="translate(29.099999999999998,256.325) rotate(-90) scale(1.06,1)"><text text-anchor="middle" style="font-family:'Liberation Sans',sans-serif;font-size:12.4px" fill="#111">−2</text></g>
<g transform="translate(29.099999999999998,237.825) rotate(-90) scale(1.06,1)"><text text-anchor="middle" style="font-family:'Liberation Sans',sans-serif;font-size:12.4px" fill="#111">− </text><path d="M3.36,0.00L4.54,0.00L4.54,-8.72L3.58,-8.72C3.33,-7.75 2.71,-7.25 1.39,-7.13L1.39,-6.26L3.36,-6.26Z" fill="#111"/></g>
<g transform="translate(29.099999999999998,219.325) rotate(-90) scale(1.06,1)"><text text-anchor="middle" style="font-family:'Liberation Sans',sans-serif;font-size:12.4px" fill="#111">0</text></g>
<g transform="translate(29.099999999999998,200.825) rotate(-90) scale(1.06,1)"><text text-anchor="middle" style="font-family:'Liberation Sans',sans-serif;font-size:12.4px" fill="#111"> </text><path d="M-0.26,0.00L0.92,0.00L0.92,-8.72L-0.04,-8.72C-0.29,-7.75 -0.91,-7.25 -2.23,-7.13L-2.23,-6.26L-0.26,-6.26Z" fill="#111"/></g>
<g transform="translate(29.099999999999998,182.325) rotate(-90) scale(1.06,1)"><text text-anchor="middle" style="font-family:'Liberation Sans',sans-serif;font-size:12.4px" fill="#111">2</text></g>
<g transform="translate(29.099999999999998,163.825) rotate(-90) scale(1.06,1)"><text text-anchor="middle" style="font-family:'Liberation Sans',sans-serif;font-size:12.4px" fill="#111">3</text></g>
<text transform="translate(11.5,217.725) rotate(-90)" text-anchor="middle" style="font-family:'Liberation Sans',sans-serif;font-size:18.5px;font-weight:normal" fill="#111">σ</text>
<text transform="translate(44.8,168.45) scale(1.03,1)" text-anchor="start" style="font-family:'Liberation Sans',sans-serif;font-size:12.0px;font-weight:normal" fill="#111">Dec</text>
<g transform="translate(351.2,134.25) rotate(-90) scale(1.06,1)"><text text-anchor="middle" style="font-family:'Liberation Sans',sans-serif;font-size:12.4px" fill="#111">−3</text></g>
<g transform="translate(351.2,115.75) rotate(-90) scale(1.06,1)"><text text-anchor="middle" style="font-family:'Liberation Sans',sans-serif;font-size:12.4px" fill="#111">−2</text></g>
<g transform="translate(351.2,97.25) rotate(-90) scale(1.06,1)"><text text-anchor="middle" style="font-family:'Liberation Sans',sans-serif;font-size:12.4px" fill="#111">− </text><path d="M3.36,0.00L4.54,0.00L4.54,-8.72L3.58,-8.72C3.33,-7.75 2.71,-7.25 1.39,-7.13L1.39,-6.26L3.36,-6.26Z" fill="#111"/></g>
<g transform="translate(351.2,78.75) rotate(-90) scale(1.06,1)"><text text-anchor="middle" style="font-family:'Liberation Sans',sans-serif;font-size:12.4px" fill="#111">0</text></g>
<g transform="translate(351.2,60.25) rotate(-90) scale(1.06,1)"><text text-anchor="middle" style="font-family:'Liberation Sans',sans-serif;font-size:12.4px" fill="#111"> </text><path d="M-0.26,0.00L0.92,0.00L0.92,-8.72L-0.04,-8.72C-0.29,-7.75 -0.91,-7.25 -2.23,-7.13L-2.23,-6.26L-0.26,-6.26Z" fill="#111"/></g>
<g transform="translate(351.2,41.75) rotate(-90) scale(1.06,1)"><text text-anchor="middle" style="font-family:'Liberation Sans',sans-serif;font-size:12.4px" fill="#111">2</text></g>
<g transform="translate(351.2,23.25) rotate(-90) scale(1.06,1)"><text text-anchor="middle" style="font-family:'Liberation Sans',sans-serif;font-size:12.4px" fill="#111">3</text></g>
<text transform="translate(333.6,77.15) rotate(-90)" text-anchor="middle" style="font-family:'Liberation Sans',sans-serif;font-size:18.5px;font-weight:normal" fill="#111">σ</text>
<text transform="translate(366.90000000000003,27.7) scale(1.03,1)" text-anchor="start" style="font-family:'Liberation Sans',sans-serif;font-size:12.0px;font-weight:normal" fill="#111">RA</text>
<g transform="translate(351.7,275.05) rotate(-90) scale(1.06,1)"><text text-anchor="middle" style="font-family:'Liberation Sans',sans-serif;font-size:12.4px" fill="#111">−3</text></g>
<g transform="translate(351.7,256.55) rotate(-90) scale(1.06,1)"><text text-anchor="middle" style="font-family:'Liberation Sans',sans-serif;font-size:12.4px" fill="#111">−2</text></g>
<g transform="translate(351.7,238.05) rotate(-90) scale(1.06,1)"><text text-anchor="middle" style="font-family:'Liberation Sans',sans-serif;font-size:12.4px" fill="#111">− </text><path d="M3.36,0.00L4.54,0.00L4.54,-8.72L3.58,-8.72C3.33,-7.75 2.71,-7.25 1.39,-7.13L1.39,-6.26L3.36,-6.26Z" fill="#111"/></g>
<g transform="translate(351.7,219.55) rotate(-90) scale(1.06,1)"><text text-anchor="middle" style="font-family:'Liberation Sans',sans-serif;font-size:12.4px" fill="#111">0</text></g>
<g transform="translate(351.7,201.05) rotate(-90) scale(1.06,1)"><text text-anchor="middle" style="font-family:'Liberation Sans',sans-serif;font-size:12.4px" fill="#111"> </text><path d="M-0.26,0.00L0.92,0.00L0.92,-8.72L-0.04,-8.72C-0.29,-7.75 -0.91,-7.25 -2.23,-7.13L-2.23,-6.26L-0.26,-6.26Z" fill="#111"/></g>
<g transform="translate(351.7,182.55) rotate(-90) scale(1.06,1)"><text text-anchor="middle" style="font-family:'Liberation Sans',sans-serif;font-size:12.4px" fill="#111">2</text></g>
<g transform="translate(351.7,164.05) rotate(-90) scale(1.06,1)"><text text-anchor="middle" style="font-family:'Liberation Sans',sans-serif;font-size:12.4px" fill="#111">3</text></g>
<text transform="translate(334.1,217.95000000000002) rotate(-90)" text-anchor="middle" style="font-family:'Liberation Sans',sans-serif;font-size:18.5px;font-weight:normal" fill="#111">σ</text>
<text transform="translate(367.40000000000003,168.5) scale(1.03,1)" text-anchor="start" style="font-family:'Liberation Sans',sans-serif;font-size:12.0px;font-weight:normal" fill="#111">Dec</text>
</svg></body></html>
